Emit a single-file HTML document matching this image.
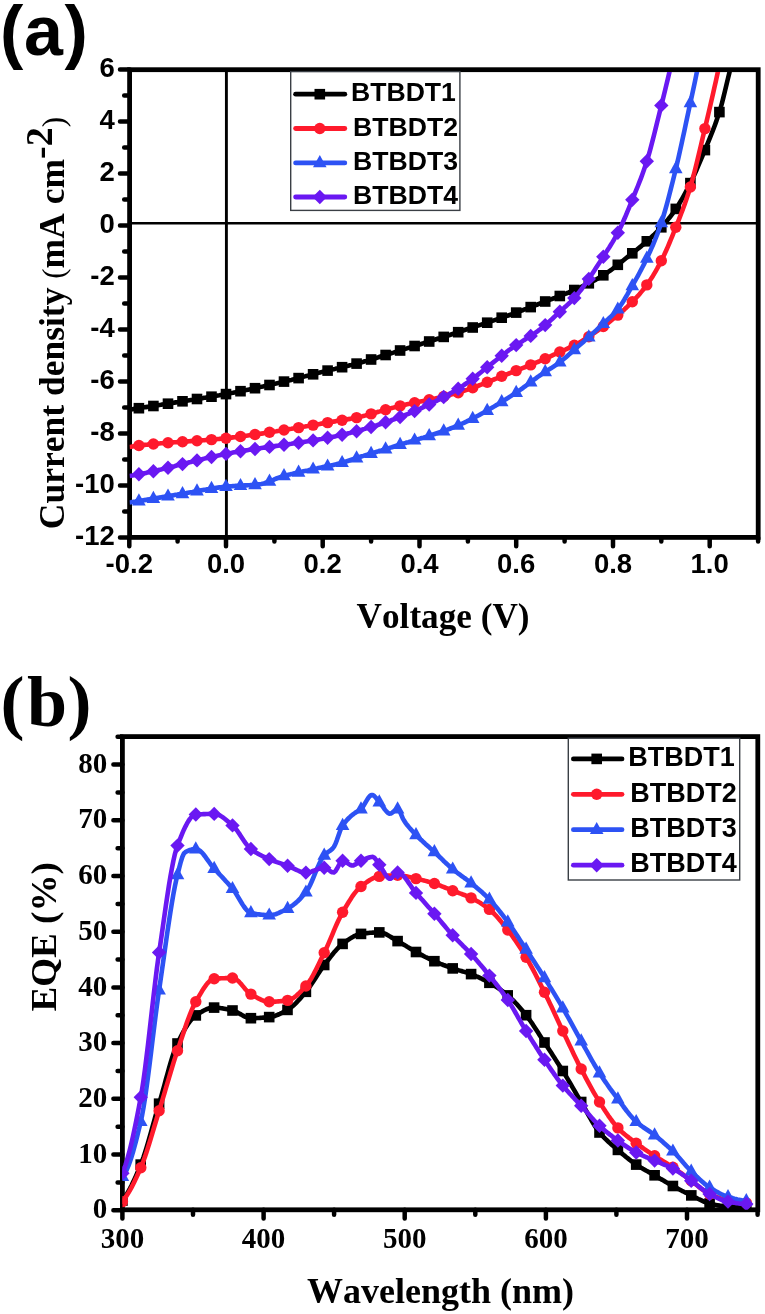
<!DOCTYPE html>
<html lang="en"><head><meta charset="utf-8"><title>J-V and EQE curves</title>
<style>html,body{margin:0;padding:0;background:#fff}svg{display:block}.sans{font-family:"Liberation Sans",Arial,Helvetica,sans-serif;font-weight:bold}.serif{font-family:"Liberation Serif","Times New Roman",Times,serif;font-weight:bold;font-kerning:none}</style></head><body>
<svg width="765" height="1314" viewBox="0 0 765 1314">
<rect width="765" height="1314" fill="#fff"/>
<filter id="soft" x="0" y="0" width="100%" height="100%" filterUnits="userSpaceOnUse" color-interpolation-filters="sRGB"><feGaussianBlur stdDeviation="0.55"/></filter>
<g filter="url(#soft)">
<rect width="765" height="1314" fill="#fff"/>
<defs><clipPath id="ca"><rect x="129.6" y="72.1" width="628.6" height="465.3"/></clipPath><clipPath id="cb"><rect x="122.4" y="739" width="635.4" height="470.8"/></clipPath></defs>
<g id="panel-a">
<line x1="226.4" y1="69.7" x2="226.4" y2="537.4" stroke="#000" stroke-width="2.9"/>
<line x1="129.6" y1="223.2" x2="758.2" y2="223.2" stroke="#000" stroke-width="2.4"/>
<rect x="129.6" y="69.7" width="628.6" height="467.7" fill="none" stroke="#000" stroke-width="4.8"/>
<path d="M129.6 69.5h-9.6M129.6 95.5h-5.4M129.6 121.5h-9.6M129.6 147.5h-5.4M129.6 173.5h-9.6M129.6 199.5h-5.4M129.6 225.5h-9.6M129.6 251.5h-5.4M129.6 277.5h-9.6M129.6 303.5h-5.4M129.6 329.5h-9.6M129.6 355.5h-5.4M129.6 381.5h-9.6M129.6 407.5h-5.4M129.6 433.5h-9.6M129.6 459.5h-5.4M129.6 485.5h-9.6M129.6 511.5h-5.4M129.6 537.5h-9.6M129.3 537.4v8.8M177.6 537.4v4M226 537.4v8.8M274.4 537.4v4M322.7 537.4v8.8M371.1 537.4v4M419.5 537.4v8.8M467.9 537.4v4M516.2 537.4v8.8M564.6 537.4v4M613 537.4v8.8M661.3 537.4v4M709.7 537.4v8.8M758.1 537.4v4" stroke="#000" stroke-width="4.5" fill="none" stroke-linecap="round"/>
<g clip-path="url(#ca)">
<path d="M129.4 409.6L130.9 409.4L132.4 409.2L133.9 408.9L135.4 408.7L136.9 408.5L138.4 408.3L139.9 408L141.4 407.8L142.9 407.6L144.4 407.3L145.9 407.1L147.4 406.9L148.9 406.7L150.4 406.4L151.9 406.2L153.4 406L154.9 405.7L156.4 405.5L157.9 405.3L159.4 405L160.9 404.8L162.4 404.5L163.9 404.3L165.4 404.1L166.9 403.8L168.4 403.6L169.9 403.4L171.4 403.1L172.9 402.9L174.4 402.6L175.9 402.4L177.4 402.2L178.9 401.9L180.4 401.7L181.9 401.4L183.4 401.2L184.9 401L186.4 400.7L187.9 400.5L189.4 400.2L190.9 400L192.4 399.8L193.9 399.5L195.4 399.3L196.9 399L198.4 398.8L199.9 398.6L201.4 398.3L202.9 398.1L204.4 397.8L205.9 397.6L207.4 397.3L208.9 397.1L210.4 396.8L211.9 396.6L213.4 396.3L214.9 396.1L216.4 395.8L217.9 395.5L219.4 395.3L220.9 395L222.4 394.7L223.9 394.5L225.4 394.2L226.9 393.9L228.4 393.6L229.9 393.3L231.4 393L232.9 392.8L234.4 392.5L235.9 392.2L237.4 391.9L238.9 391.6L240.4 391.3L241.9 391L243.4 390.7L244.9 390.3L246.4 390L247.9 389.7L249.4 389.4L250.9 389.1L252.4 388.8L253.9 388.4L255.4 388.1L256.9 387.8L258.4 387.5L259.9 387.1L261.4 386.8L262.9 386.5L264.4 386.1L265.9 385.8L267.4 385.5L268.9 385.1L270.4 384.8L271.9 384.4L273.4 384.1L274.9 383.8L276.4 383.4L277.9 383.1L279.4 382.7L280.9 382.4L282.4 382L283.9 381.7L285.4 381.3L286.9 381L288.4 380.6L289.9 380.2L291.4 379.9L292.9 379.5L294.4 379.1L295.9 378.7L297.4 378.4L298.9 378L300.4 377.6L301.9 377.2L303.4 376.8L304.9 376.4L306.4 376L307.9 375.6L309.4 375.2L310.9 374.8L312.4 374.4L313.9 374.1L315.4 373.7L316.9 373.3L318.4 372.9L319.9 372.5L321.4 372.1L322.9 371.7L324.4 371.4L325.9 371L327.4 370.6L328.9 370.3L330.4 369.9L331.9 369.6L333.4 369.2L334.9 368.9L336.4 368.5L337.9 368.2L339.4 367.8L340.9 367.5L342.4 367.1L343.9 366.8L345.4 366.4L346.9 366.1L348.4 365.7L349.9 365.3L351.4 365L352.9 364.6L354.4 364.2L355.9 363.8L357.4 363.4L358.9 363L360.4 362.6L361.9 362.2L363.4 361.8L364.9 361.3L366.4 360.9L367.9 360.4L369.4 360L370.9 359.5L372.4 359.1L373.9 358.6L375.4 358.2L376.9 357.7L378.4 357.3L379.9 356.8L381.4 356.3L382.9 355.9L384.4 355.4L385.9 354.9L387.4 354.4L388.9 354L390.4 353.5L391.9 353L393.4 352.6L394.9 352.1L396.4 351.6L397.9 351.2L399.4 350.7L400.9 350.3L402.4 349.8L403.9 349.3L405.4 348.9L406.9 348.4L408.4 347.9L409.9 347.5L411.4 347L412.9 346.5L414.4 346.1L415.9 345.6L417.4 345.1L418.9 344.7L420.4 344.2L421.9 343.7L423.4 343.3L424.9 342.8L426.4 342.3L427.9 341.9L429.4 341.4L430.9 340.9L432.4 340.4L433.9 340L435.4 339.5L436.9 339L438.4 338.5L439.9 338.1L441.4 337.6L442.9 337.1L444.4 336.6L445.9 336.1L447.4 335.7L448.9 335.2L450.4 334.7L451.9 334.2L453.4 333.7L454.9 333.2L456.4 332.7L457.9 332.3L459.4 331.8L460.9 331.3L462.4 330.8L463.9 330.3L465.4 329.8L466.9 329.3L468.4 328.8L469.9 328.4L471.4 327.9L472.9 327.4L474.4 326.9L475.9 326.4L477.4 325.9L478.9 325.4L480.4 324.9L481.9 324.4L483.4 323.9L484.9 323.4L486.4 322.9L487.9 322.4L489.4 321.9L490.9 321.4L492.4 320.9L493.9 320.4L495.4 319.9L496.9 319.4L498.4 318.9L499.9 318.4L501.4 317.8L502.9 317.3L504.4 316.8L505.9 316.3L507.4 315.7L508.9 315.2L510.4 314.7L511.9 314.2L513.4 313.6L514.9 313.1L516.4 312.5L517.9 312L519.4 311.4L520.9 310.8L522.4 310.3L523.9 309.7L525.4 309.1L526.9 308.6L528.4 308L529.9 307.4L531.4 306.8L532.9 306.2L534.4 305.7L535.9 305.1L537.4 304.5L538.9 303.9L540.4 303.3L541.9 302.8L543.4 302.2L544.9 301.6L546.4 301.1L547.9 300.5L549.4 299.9L550.9 299.4L552.4 298.8L553.9 298.3L555.4 297.7L556.9 297.1L558.4 296.6L559.9 296L561.4 295.4L562.9 294.8L564.4 294.2L565.9 293.6L567.4 293L568.9 292.4L570.4 291.7L571.9 291.1L573.4 290.4L574.9 289.8L576.4 289.1L577.9 288.4L579.4 287.7L580.9 287.1L582.4 286.4L583.9 285.7L585.4 284.9L586.9 284.2L588.4 283.5L589.9 282.7L591.4 282L592.9 281.2L594.4 280.4L595.9 279.6L597.4 278.7L598.9 277.9L600.4 277L601.9 276.1L603.4 275.2L604.9 274.3L606.4 273.3L607.9 272.2L609.4 271.2L610.9 270.1L612.4 269L613.9 267.8L615.4 266.7L616.9 265.5L618.4 264.3L619.9 263.1L621.4 261.9L622.9 260.7L624.4 259.5L625.9 258.3L627.4 257.1L628.9 255.9L630.4 254.8L631.9 253.6L633.4 252.4L634.9 251.2L636.4 250L637.9 248.8L639.4 247.6L640.9 246.4L642.4 245.1L643.9 243.9L645.4 242.6L646.9 241.3L648.4 239.9L649.9 238.6L651.4 237.2L652.9 235.8L654.4 234.4L655.9 232.9L657.4 231.4L658.9 229.9L660.4 228.3L661.9 226.6L663.4 225L664.9 223.2L666.4 221.5L667.9 219.6L669.4 217.8L670.9 215.8L672.4 213.8L673.9 211.7L675.4 209.6L676.9 207.3L678.4 205L679.9 202.5L681.4 200L682.9 197.3L684.4 194.6L685.9 191.8L687.4 188.9L688.9 186L690.4 183L691.9 179.9L693.4 176.8L694.9 173.5L696.4 170.2L697.9 166.7L699.4 163.2L700.9 159.7L702.4 156.1L703.9 152.4L705.4 148.8L706.9 145.2L708.4 141.6L709.9 137.9L711.4 134.2L712.9 130.4L714.4 126.5L715.9 122.4L717.4 118.1L718.9 113.6L720.4 108.7L721.9 103.3L723.4 97.4L724.9 91.3L726.4 85L727.9 78.8L729.4 72.6L730.9 66.6L732.4 60.5L733.9 54.5" fill="none" stroke="#000000" stroke-width="4.6" stroke-linejoin="round" stroke-linecap="butt"/>
<rect x="133.6" y="402.9" width="10.6" height="10.6" fill="#000000"/>
<rect x="148.1" y="400.7" width="10.6" height="10.6" fill="#000000"/>
<rect x="162.7" y="398.4" width="10.6" height="10.6" fill="#000000"/>
<rect x="177.2" y="396" width="10.6" height="10.6" fill="#000000"/>
<rect x="191.7" y="393.7" width="10.6" height="10.6" fill="#000000"/>
<rect x="206.2" y="391.4" width="10.6" height="10.6" fill="#000000"/>
<rect x="220.7" y="388.8" width="10.6" height="10.6" fill="#000000"/>
<rect x="235.2" y="385.9" width="10.6" height="10.6" fill="#000000"/>
<rect x="249.7" y="382.9" width="10.6" height="10.6" fill="#000000"/>
<rect x="264.2" y="379.7" width="10.6" height="10.6" fill="#000000"/>
<rect x="278.7" y="376.3" width="10.6" height="10.6" fill="#000000"/>
<rect x="293.3" y="372.8" width="10.6" height="10.6" fill="#000000"/>
<rect x="307.8" y="369" width="10.6" height="10.6" fill="#000000"/>
<rect x="322.3" y="365.3" width="10.6" height="10.6" fill="#000000"/>
<rect x="336.8" y="361.9" width="10.6" height="10.6" fill="#000000"/>
<rect x="351.3" y="358.3" width="10.6" height="10.6" fill="#000000"/>
<rect x="365.8" y="354.2" width="10.6" height="10.6" fill="#000000"/>
<rect x="380.3" y="349.7" width="10.6" height="10.6" fill="#000000"/>
<rect x="394.8" y="345.2" width="10.6" height="10.6" fill="#000000"/>
<rect x="409.3" y="340.7" width="10.6" height="10.6" fill="#000000"/>
<rect x="423.9" y="336.2" width="10.6" height="10.6" fill="#000000"/>
<rect x="438.4" y="331.6" width="10.6" height="10.6" fill="#000000"/>
<rect x="452.9" y="326.9" width="10.6" height="10.6" fill="#000000"/>
<rect x="467.4" y="322.2" width="10.6" height="10.6" fill="#000000"/>
<rect x="481.9" y="317.4" width="10.6" height="10.6" fill="#000000"/>
<rect x="496.4" y="312.4" width="10.6" height="10.6" fill="#000000"/>
<rect x="510.9" y="307.3" width="10.6" height="10.6" fill="#000000"/>
<rect x="525.4" y="301.8" width="10.6" height="10.6" fill="#000000"/>
<rect x="539.9" y="296.2" width="10.6" height="10.6" fill="#000000"/>
<rect x="554.5" y="290.7" width="10.6" height="10.6" fill="#000000"/>
<rect x="569" y="284.7" width="10.6" height="10.6" fill="#000000"/>
<rect x="583.5" y="278" width="10.6" height="10.6" fill="#000000"/>
<rect x="598" y="270" width="10.6" height="10.6" fill="#000000"/>
<rect x="612.5" y="259.5" width="10.6" height="10.6" fill="#000000"/>
<rect x="627" y="248" width="10.6" height="10.6" fill="#000000"/>
<rect x="641.5" y="236" width="10.6" height="10.6" fill="#000000"/>
<rect x="656" y="222" width="10.6" height="10.6" fill="#000000"/>
<rect x="670.5" y="203.6" width="10.6" height="10.6" fill="#000000"/>
<rect x="685.1" y="177.8" width="10.6" height="10.6" fill="#000000"/>
<rect x="699.6" y="144.8" width="10.6" height="10.6" fill="#000000"/>
<rect x="714.1" y="106.8" width="10.6" height="10.6" fill="#000000"/>
<path d="M129.4 447L130.9 446.8L132.4 446.5L133.9 446.2L135.4 446L136.9 445.8L138.4 445.6L139.9 445.4L141.4 445.2L142.9 445.1L144.4 444.9L145.9 444.7L147.4 444.6L148.9 444.4L150.4 444.3L151.9 444.1L153.4 444L154.9 443.9L156.4 443.7L157.9 443.6L159.4 443.5L160.9 443.3L162.4 443.2L163.9 443.1L165.4 443L166.9 442.9L168.4 442.7L169.9 442.6L171.4 442.5L172.9 442.4L174.4 442.3L175.9 442.2L177.4 442.1L178.9 442L180.4 441.9L181.9 441.8L183.4 441.7L184.9 441.6L186.4 441.5L187.9 441.4L189.4 441.3L190.9 441.1L192.4 441L193.9 440.9L195.4 440.8L196.9 440.7L198.4 440.6L199.9 440.5L201.4 440.4L202.9 440.3L204.4 440.2L205.9 440L207.4 439.9L208.9 439.8L210.4 439.7L211.9 439.6L213.4 439.4L214.9 439.3L216.4 439.2L217.9 439L219.4 438.9L220.9 438.7L222.4 438.6L223.9 438.4L225.4 438.3L226.9 438.1L228.4 437.9L229.9 437.8L231.4 437.6L232.9 437.4L234.4 437.2L235.9 437.1L237.4 436.9L238.9 436.7L240.4 436.5L241.9 436.3L243.4 436.1L244.9 435.9L246.4 435.7L247.9 435.5L249.4 435.3L250.9 435.1L252.4 434.9L253.9 434.7L255.4 434.5L256.9 434.3L258.4 434L259.9 433.8L261.4 433.6L262.9 433.4L264.4 433.1L265.9 432.9L267.4 432.7L268.9 432.4L270.4 432.2L271.9 432L273.4 431.7L274.9 431.5L276.4 431.3L277.9 431L279.4 430.8L280.9 430.5L282.4 430.3L283.9 430L285.4 429.8L286.9 429.5L288.4 429.3L289.9 429L291.4 428.8L292.9 428.5L294.4 428.3L295.9 428L297.4 427.8L298.9 427.5L300.4 427.3L301.9 427L303.4 426.7L304.9 426.5L306.4 426.2L307.9 426L309.4 425.7L310.9 425.5L312.4 425.2L313.9 424.9L315.4 424.7L316.9 424.4L318.4 424.2L319.9 423.9L321.4 423.6L322.9 423.4L324.4 423.1L325.9 422.9L327.4 422.6L328.9 422.4L330.4 422.1L331.9 421.9L333.4 421.6L334.9 421.4L336.4 421.1L337.9 420.8L339.4 420.6L340.9 420.4L342.4 420.1L343.9 419.9L345.4 419.6L346.9 419.4L348.4 419.1L349.9 418.9L351.4 418.6L352.9 418.3L354.4 418L355.9 417.7L357.4 417.4L358.9 417.1L360.4 416.7L361.9 416.4L363.4 416L364.9 415.6L366.4 415.2L367.9 414.8L369.4 414.4L370.9 414L372.4 413.6L373.9 413.1L375.4 412.7L376.9 412.3L378.4 411.8L379.9 411.4L381.4 410.9L382.9 410.5L384.4 410.1L385.9 409.6L387.4 409.2L388.9 408.8L390.4 408.4L391.9 408L393.4 407.6L394.9 407.2L396.4 406.8L397.9 406.4L399.4 406L400.9 405.7L402.4 405.3L403.9 405L405.4 404.7L406.9 404.3L408.4 404L409.9 403.7L411.4 403.4L412.9 403L414.4 402.7L415.9 402.4L417.4 402.1L418.9 401.8L420.4 401.5L421.9 401.2L423.4 400.9L424.9 400.6L426.4 400.3L427.9 400L429.4 399.6L430.9 399.3L432.4 399L433.9 398.7L435.4 398.4L436.9 398.1L438.4 397.7L439.9 397.4L441.4 397L442.9 396.7L444.4 396.3L445.9 396L447.4 395.6L448.9 395.2L450.4 394.8L451.9 394.4L453.4 394L454.9 393.6L456.4 393.2L457.9 392.8L459.4 392.3L460.9 391.8L462.4 391.4L463.9 390.9L465.4 390.4L466.9 389.9L468.4 389.4L469.9 388.8L471.4 388.3L472.9 387.7L474.4 387.2L475.9 386.6L477.4 386.1L478.9 385.5L480.4 384.9L481.9 384.3L483.4 383.7L484.9 383.1L486.4 382.5L487.9 381.9L489.4 381.3L490.9 380.7L492.4 380.1L493.9 379.5L495.4 378.9L496.9 378.3L498.4 377.7L499.9 377.1L501.4 376.5L502.9 375.9L504.4 375.3L505.9 374.7L507.4 374.1L508.9 373.5L510.4 372.9L511.9 372.3L513.4 371.7L514.9 371.1L516.4 370.5L517.9 369.9L519.4 369.4L520.9 368.8L522.4 368.2L523.9 367.6L525.4 367L526.9 366.4L528.4 365.8L529.9 365.2L531.4 364.6L532.9 364L534.4 363.4L535.9 362.7L537.4 362.1L538.9 361.5L540.4 360.8L541.9 360.2L543.4 359.5L544.9 358.8L546.4 358.2L547.9 357.5L549.4 356.8L550.9 356.1L552.4 355.4L553.9 354.7L555.4 354L556.9 353.3L558.4 352.6L559.9 351.9L561.4 351.3L562.9 350.6L564.4 349.9L565.9 349.3L567.4 348.6L568.9 347.9L570.4 347.2L571.9 346.5L573.4 345.8L574.9 345L576.4 344.2L577.9 343.3L579.4 342.5L580.9 341.6L582.4 340.7L583.9 339.8L585.4 338.8L586.9 337.9L588.4 336.9L589.9 335.9L591.4 334.9L592.9 333.9L594.4 332.9L595.9 331.8L597.4 330.8L598.9 329.7L600.4 328.6L601.9 327.5L603.4 326.4L604.9 325.3L606.4 324.2L607.9 323.1L609.4 321.9L610.9 320.7L612.4 319.5L613.9 318.3L615.4 317.1L616.9 315.9L618.4 314.6L619.9 313.3L621.4 312L622.9 310.7L624.4 309.4L625.9 308L627.4 306.6L628.9 305.1L630.4 303.7L631.9 302.2L633.4 300.7L634.9 299.1L636.4 297.5L637.9 295.9L639.4 294.2L640.9 292.4L642.4 290.6L643.9 288.7L645.4 286.8L646.9 284.8L648.4 282.7L649.9 280.5L651.4 278.2L652.9 275.9L654.4 273.4L655.9 270.8L657.4 268.2L658.9 265.4L660.4 262.6L661.9 259.6L663.4 256.6L664.9 253.3L666.4 250L667.9 246.6L669.4 243L670.9 239.4L672.4 235.8L673.9 232L675.4 228.3L676.9 224.5L678.4 220.8L679.9 216.9L681.4 213L682.9 209.1L684.4 204.9L685.9 200.7L687.4 196.3L688.9 191.7L690.4 186.8L691.9 181.7L693.4 176.2L694.9 170.4L696.4 164.3L697.9 158.1L699.4 151.8L700.9 145.4L702.4 139L703.9 132.7L705.4 126.4L706.9 120.1L708.4 113.7L709.9 107.3L711.4 100.8L712.9 94.3L714.4 87.6L715.9 80.9L717.4 74.1L718.9 67.2L720.4 60.1L721.9 52.9" fill="none" stroke="#ff1a2c" stroke-width="4.6" stroke-linejoin="round" stroke-linecap="butt"/>
<circle cx="138.9" cy="445.5" r="5.7" fill="#ff1a2c"/>
<circle cx="153.4" cy="444" r="5.7" fill="#ff1a2c"/>
<circle cx="168" cy="442.8" r="5.7" fill="#ff1a2c"/>
<circle cx="182.5" cy="441.7" r="5.7" fill="#ff1a2c"/>
<circle cx="197" cy="440.7" r="5.7" fill="#ff1a2c"/>
<circle cx="211.5" cy="439.6" r="5.7" fill="#ff1a2c"/>
<circle cx="226" cy="438.2" r="5.7" fill="#ff1a2c"/>
<circle cx="240.5" cy="436.5" r="5.7" fill="#ff1a2c"/>
<circle cx="255" cy="434.5" r="5.7" fill="#ff1a2c"/>
<circle cx="269.5" cy="432.3" r="5.7" fill="#ff1a2c"/>
<circle cx="284" cy="430" r="5.7" fill="#ff1a2c"/>
<circle cx="298.6" cy="427.6" r="5.7" fill="#ff1a2c"/>
<circle cx="313.1" cy="425.1" r="5.7" fill="#ff1a2c"/>
<circle cx="327.6" cy="422.6" r="5.7" fill="#ff1a2c"/>
<circle cx="342.1" cy="420.2" r="5.7" fill="#ff1a2c"/>
<circle cx="356.6" cy="417.6" r="5.7" fill="#ff1a2c"/>
<circle cx="371.1" cy="413.9" r="5.7" fill="#ff1a2c"/>
<circle cx="385.6" cy="409.7" r="5.7" fill="#ff1a2c"/>
<circle cx="400.1" cy="405.9" r="5.7" fill="#ff1a2c"/>
<circle cx="414.6" cy="402.7" r="5.7" fill="#ff1a2c"/>
<circle cx="429.2" cy="399.7" r="5.7" fill="#ff1a2c"/>
<circle cx="443.7" cy="396.5" r="5.7" fill="#ff1a2c"/>
<circle cx="458.2" cy="392.7" r="5.7" fill="#ff1a2c"/>
<circle cx="472.7" cy="387.8" r="5.7" fill="#ff1a2c"/>
<circle cx="487.2" cy="382.2" r="5.7" fill="#ff1a2c"/>
<circle cx="501.7" cy="376.3" r="5.7" fill="#ff1a2c"/>
<circle cx="516.2" cy="370.6" r="5.7" fill="#ff1a2c"/>
<circle cx="530.7" cy="364.9" r="5.7" fill="#ff1a2c"/>
<circle cx="545.2" cy="358.7" r="5.7" fill="#ff1a2c"/>
<circle cx="559.8" cy="352" r="5.7" fill="#ff1a2c"/>
<circle cx="574.3" cy="345.3" r="5.7" fill="#ff1a2c"/>
<circle cx="588.8" cy="336.7" r="5.7" fill="#ff1a2c"/>
<circle cx="603.3" cy="326.5" r="5.7" fill="#ff1a2c"/>
<circle cx="617.8" cy="315.1" r="5.7" fill="#ff1a2c"/>
<circle cx="632.3" cy="301.8" r="5.7" fill="#ff1a2c"/>
<circle cx="646.8" cy="284.9" r="5.7" fill="#ff1a2c"/>
<circle cx="661.3" cy="260.8" r="5.7" fill="#ff1a2c"/>
<circle cx="675.8" cy="227.2" r="5.7" fill="#ff1a2c"/>
<circle cx="690.4" cy="187" r="5.7" fill="#ff1a2c"/>
<circle cx="704.9" cy="128.6" r="5.7" fill="#ff1a2c"/>
<circle cx="719.4" cy="65" r="5.7" fill="#ff1a2c"/>
<path d="M129.4 502.5L130.9 502.3L132.4 502L133.9 501.8L135.4 501.6L136.9 501.3L138.4 501.1L139.9 500.9L141.4 500.6L142.9 500.4L144.4 500.1L145.9 499.9L147.4 499.6L148.9 499.4L150.4 499.1L151.9 498.9L153.4 498.6L154.9 498.4L156.4 498.1L157.9 497.9L159.4 497.6L160.9 497.4L162.4 497.1L163.9 496.9L165.4 496.6L166.9 496.4L168.4 496.1L169.9 495.9L171.4 495.6L172.9 495.4L174.4 495.1L175.9 494.8L177.4 494.6L178.9 494.3L180.4 494.1L181.9 493.8L183.4 493.6L184.9 493.3L186.4 493.1L187.9 492.8L189.4 492.5L190.9 492.2L192.4 492L193.9 491.7L195.4 491.4L196.9 491.1L198.4 490.8L199.9 490.6L201.4 490.3L202.9 490L204.4 489.7L205.9 489.5L207.4 489.2L208.9 489L210.4 488.7L211.9 488.5L213.4 488.2L214.9 488L216.4 487.8L217.9 487.6L219.4 487.4L220.9 487.2L222.4 487L223.9 486.8L225.4 486.7L226.9 486.5L228.4 486.4L229.9 486.3L231.4 486.2L232.9 486.1L234.4 486L235.9 485.9L237.4 485.8L238.9 485.7L240.4 485.7L241.9 485.6L243.4 485.5L244.9 485.4L246.4 485.4L247.9 485.3L249.4 485.2L250.9 485.1L252.4 485L253.9 484.9L255.4 484.7L256.9 484.6L258.4 484.4L259.9 484.2L261.4 484L262.9 483.6L264.4 483.2L265.9 482.7L267.4 482.2L268.9 481.6L270.4 481L271.9 480.4L273.4 479.8L274.9 479.1L276.4 478.5L277.9 477.9L279.4 477.4L280.9 476.9L282.4 476.4L283.9 476L285.4 475.6L286.9 475.2L288.4 474.8L289.9 474.4L291.4 474.1L292.9 473.7L294.4 473.3L295.9 473L297.4 472.7L298.9 472.3L300.4 472L301.9 471.7L303.4 471.3L304.9 471L306.4 470.7L307.9 470.4L309.4 470L310.9 469.7L312.4 469.4L313.9 469L315.4 468.7L316.9 468.4L318.4 468L319.9 467.7L321.4 467.4L322.9 467.1L324.4 466.8L325.9 466.5L327.4 466.2L328.9 465.9L330.4 465.6L331.9 465.2L333.4 464.9L334.9 464.6L336.4 464.2L337.9 463.8L339.4 463.5L340.9 463.1L342.4 462.6L343.9 462.2L345.4 461.7L346.9 461.2L348.4 460.7L349.9 460.2L351.4 459.7L352.9 459.2L354.4 458.7L355.9 458.2L357.4 457.7L358.9 457.3L360.4 456.8L361.9 456.3L363.4 455.9L364.9 455.4L366.4 454.9L367.9 454.5L369.4 454L370.9 453.6L372.4 453.1L373.9 452.7L375.4 452.2L376.9 451.7L378.4 451.3L379.9 450.8L381.4 450.4L382.9 449.9L384.4 449.5L385.9 449L387.4 448.5L388.9 448.1L390.4 447.6L391.9 447.2L393.4 446.7L394.9 446.2L396.4 445.7L397.9 445.3L399.4 444.8L400.9 444.3L402.4 443.9L403.9 443.4L405.4 443L406.9 442.5L408.4 442.1L409.9 441.6L411.4 441.2L412.9 440.7L414.4 440.3L415.9 439.8L417.4 439.4L418.9 438.9L420.4 438.5L421.9 438L423.4 437.6L424.9 437.1L426.4 436.7L427.9 436.2L429.4 435.7L430.9 435.3L432.4 434.8L433.9 434.3L435.4 433.8L436.9 433.3L438.4 432.8L439.9 432.3L441.4 431.8L442.9 431.3L444.4 430.8L445.9 430.2L447.4 429.7L448.9 429.1L450.4 428.5L451.9 427.9L453.4 427.3L454.9 426.7L456.4 426.1L457.9 425.5L459.4 424.8L460.9 424.2L462.4 423.5L463.9 422.8L465.4 422.1L466.9 421.4L468.4 420.6L469.9 419.9L471.4 419.1L472.9 418.4L474.4 417.6L475.9 416.8L477.4 416L478.9 415.2L480.4 414.4L481.9 413.5L483.4 412.7L484.9 411.8L486.4 411L487.9 410.1L489.4 409.2L490.9 408.4L492.4 407.5L493.9 406.6L495.4 405.7L496.9 404.8L498.4 403.8L499.9 402.9L501.4 402L502.9 401.1L504.4 400.1L505.9 399.2L507.4 398.3L508.9 397.3L510.4 396.4L511.9 395.4L513.4 394.5L514.9 393.5L516.4 392.5L517.9 391.5L519.4 390.4L520.9 389.4L522.4 388.3L523.9 387.2L525.4 386.1L526.9 385L528.4 383.8L529.9 382.7L531.4 381.6L532.9 380.5L534.4 379.4L535.9 378.3L537.4 377.2L538.9 376.2L540.4 375.1L541.9 374.1L543.4 373.1L544.9 372.1L546.4 371.2L547.9 370.2L549.4 369.2L550.9 368.3L552.4 367.3L553.9 366.3L555.4 365.3L556.9 364.3L558.4 363.2L559.9 362.1L561.4 360.9L562.9 359.7L564.4 358.5L565.9 357.2L567.4 355.9L568.9 354.6L570.4 353.2L571.9 351.9L573.4 350.6L574.9 349.3L576.4 347.9L577.9 346.6L579.4 345.3L580.9 344L582.4 342.7L583.9 341.4L585.4 340L586.9 338.7L588.4 337.4L589.9 336L591.4 334.7L592.9 333.3L594.4 332L595.9 330.6L597.4 329.2L598.9 327.8L600.4 326.4L601.9 325L603.4 323.6L604.9 322.2L606.4 320.8L607.9 319.4L609.4 318L610.9 316.6L612.4 315.2L613.9 313.6L615.4 312L616.9 310.3L618.4 308.4L619.9 306.4L621.4 304.2L622.9 301.9L624.4 299.5L625.9 296.9L627.4 294.4L628.9 291.7L630.4 289.1L631.9 286.5L633.4 283.9L634.9 281.2L636.4 278.5L637.9 275.8L639.4 273L640.9 270.2L642.4 267.3L643.9 264.4L645.4 261.3L646.9 258.2L648.4 255L649.9 251.8L651.4 248.4L652.9 245L654.4 241.4L655.9 237.7L657.4 233.9L658.9 229.8L660.4 225.6L661.9 221.1L663.4 216.3L664.9 211.2L666.4 205.8L667.9 200.3L669.4 194.5L670.9 188.7L672.4 182.7L673.9 176.7L675.4 170.6L676.9 164.4L678.4 157.9L679.9 151.3L681.4 144.5L682.9 137.6L684.4 130.7L685.9 123.6L687.4 116.6L688.9 109.6L690.4 102.6L691.9 95.7L693.4 88.7L694.9 81.7L696.4 74.4L697.9 66.8L699.4 58.8L700.9 50.6" fill="none" stroke="#2d52f4" stroke-width="4.6" stroke-linejoin="round" stroke-linecap="butt"/>
<path d="M138.9 493.2L145.7 505.4L132.1 505.4Z" fill="#2d52f4"/>
<path d="M153.4 490.8L160.2 503L146.6 503Z" fill="#2d52f4"/>
<path d="M168 488.4L174.8 500.6L161.2 500.6Z" fill="#2d52f4"/>
<path d="M182.5 486L189.3 498.2L175.7 498.2Z" fill="#2d52f4"/>
<path d="M197 483.3L203.8 495.5L190.2 495.5Z" fill="#2d52f4"/>
<path d="M211.5 480.7L218.3 492.9L204.7 492.9Z" fill="#2d52f4"/>
<path d="M226 478.8L232.8 491L219.2 491Z" fill="#2d52f4"/>
<path d="M240.5 477.9L247.3 490.1L233.7 490.1Z" fill="#2d52f4"/>
<path d="M255 477L261.8 489.2L248.2 489.2Z" fill="#2d52f4"/>
<path d="M269.5 473.6L276.3 485.8L262.7 485.8Z" fill="#2d52f4"/>
<path d="M284 468.1L290.8 480.3L277.2 480.3Z" fill="#2d52f4"/>
<path d="M298.6 464.6L305.4 476.8L291.8 476.8Z" fill="#2d52f4"/>
<path d="M313.1 461.4L319.9 473.6L306.3 473.6Z" fill="#2d52f4"/>
<path d="M327.6 458.4L334.4 470.6L320.8 470.6Z" fill="#2d52f4"/>
<path d="M342.1 454.9L348.9 467.1L335.3 467.1Z" fill="#2d52f4"/>
<path d="M356.6 450.2L363.4 462.4L349.8 462.4Z" fill="#2d52f4"/>
<path d="M371.1 445.7L377.9 457.9L364.3 457.9Z" fill="#2d52f4"/>
<path d="M385.6 441.3L392.4 453.5L378.8 453.5Z" fill="#2d52f4"/>
<path d="M400.1 436.8L406.9 449L393.3 449Z" fill="#2d52f4"/>
<path d="M414.6 432.4L421.4 444.6L407.8 444.6Z" fill="#2d52f4"/>
<path d="M429.2 428L436 440.2L422.4 440.2Z" fill="#2d52f4"/>
<path d="M443.7 423.2L450.5 435.4L436.9 435.4Z" fill="#2d52f4"/>
<path d="M458.2 417.6L465 429.8L451.4 429.8Z" fill="#2d52f4"/>
<path d="M472.7 410.7L479.5 422.9L465.9 422.9Z" fill="#2d52f4"/>
<path d="M487.2 402.7L494 414.9L480.4 414.9Z" fill="#2d52f4"/>
<path d="M501.7 394L508.5 406.2L494.9 406.2Z" fill="#2d52f4"/>
<path d="M516.2 384.8L523 397L509.4 397Z" fill="#2d52f4"/>
<path d="M530.7 374.3L537.5 386.5L523.9 386.5Z" fill="#2d52f4"/>
<path d="M545.2 364.1L552 376.3L538.4 376.3Z" fill="#2d52f4"/>
<path d="M559.8 354.4L566.6 366.6L553 366.6Z" fill="#2d52f4"/>
<path d="M574.3 342L581.1 354.2L567.5 354.2Z" fill="#2d52f4"/>
<path d="M588.8 329.2L595.6 341.4L582 341.4Z" fill="#2d52f4"/>
<path d="M603.3 315.9L610.1 328.1L596.5 328.1Z" fill="#2d52f4"/>
<path d="M617.8 301.4L624.6 313.6L611 313.6Z" fill="#2d52f4"/>
<path d="M632.3 278L639.1 290.2L625.5 290.2Z" fill="#2d52f4"/>
<path d="M646.8 250.6L653.6 262.8L640 262.8Z" fill="#2d52f4"/>
<path d="M661.3 215L668.1 227.2L654.5 227.2Z" fill="#2d52f4"/>
<path d="M675.8 161L682.6 173.2L669 173.2Z" fill="#2d52f4"/>
<path d="M690.4 95L697.2 107.2L683.6 107.2Z" fill="#2d52f4"/>
<path d="M129.4 476L130.9 475.7L132.4 475.5L133.9 475.2L135.4 475L136.9 474.7L138.4 474.4L139.9 474.1L141.4 473.8L142.9 473.5L144.4 473.2L145.9 472.9L147.4 472.6L148.9 472.2L150.4 471.9L151.9 471.6L153.4 471.2L154.9 470.9L156.4 470.6L157.9 470.2L159.4 469.8L160.9 469.5L162.4 469.1L163.9 468.8L165.4 468.4L166.9 468L168.4 467.7L169.9 467.3L171.4 466.9L172.9 466.5L174.4 466.2L175.9 465.8L177.4 465.4L178.9 465L180.4 464.6L181.9 464.2L183.4 463.9L184.9 463.5L186.4 463.1L187.9 462.7L189.4 462.3L190.9 462L192.4 461.6L193.9 461.2L195.4 460.8L196.9 460.5L198.4 460.1L199.9 459.7L201.4 459.4L202.9 459L204.4 458.6L205.9 458.3L207.4 457.9L208.9 457.6L210.4 457.2L211.9 456.9L213.4 456.5L214.9 456.2L216.4 455.9L217.9 455.6L219.4 455.2L220.9 454.9L222.4 454.6L223.9 454.3L225.4 454L226.9 453.7L228.4 453.4L229.9 453.2L231.4 452.9L232.9 452.6L234.4 452.3L235.9 452.1L237.4 451.8L238.9 451.6L240.4 451.3L241.9 451L243.4 450.8L244.9 450.6L246.4 450.3L247.9 450.1L249.4 449.8L250.9 449.6L252.4 449.4L253.9 449.1L255.4 448.9L256.9 448.7L258.4 448.5L259.9 448.2L261.4 448L262.9 447.8L264.4 447.6L265.9 447.4L267.4 447.2L268.9 446.9L270.4 446.7L271.9 446.5L273.4 446.3L274.9 446.1L276.4 445.9L277.9 445.7L279.4 445.5L280.9 445.2L282.4 445L283.9 444.8L285.4 444.6L286.9 444.4L288.4 444.2L289.9 444L291.4 443.8L292.9 443.5L294.4 443.3L295.9 443.1L297.4 442.9L298.9 442.6L300.4 442.4L301.9 442.2L303.4 442L304.9 441.7L306.4 441.5L307.9 441.3L309.4 441L310.9 440.8L312.4 440.5L313.9 440.3L315.4 440L316.9 439.8L318.4 439.5L319.9 439.2L321.4 439L322.9 438.7L324.4 438.4L325.9 438.2L327.4 437.9L328.9 437.6L330.4 437.3L331.9 437L333.4 436.7L334.9 436.4L336.4 436.1L337.9 435.8L339.4 435.4L340.9 435.1L342.4 434.8L343.9 434.4L345.4 434.1L346.9 433.7L348.4 433.3L349.9 433L351.4 432.6L352.9 432.2L354.4 431.8L355.9 431.4L357.4 431L358.9 430.6L360.4 430.2L361.9 429.7L363.4 429.3L364.9 428.9L366.4 428.4L367.9 428L369.4 427.5L370.9 427.1L372.4 426.6L373.9 426.1L375.4 425.6L376.9 425.2L378.4 424.7L379.9 424.2L381.4 423.7L382.9 423.2L384.4 422.7L385.9 422.1L387.4 421.6L388.9 421.1L390.4 420.6L391.9 420L393.4 419.5L394.9 419L396.4 418.4L397.9 417.9L399.4 417.3L400.9 416.7L402.4 416.2L403.9 415.6L405.4 415L406.9 414.4L408.4 413.8L409.9 413.1L411.4 412.5L412.9 411.9L414.4 411.2L415.9 410.6L417.4 409.9L418.9 409.3L420.4 408.6L421.9 407.9L423.4 407.2L424.9 406.5L426.4 405.8L427.9 405.1L429.4 404.4L430.9 403.6L432.4 402.9L433.9 402.1L435.4 401.4L436.9 400.6L438.4 399.8L439.9 399.1L441.4 398.3L442.9 397.5L444.4 396.7L445.9 395.8L447.4 395L448.9 394.2L450.4 393.3L451.9 392.5L453.4 391.6L454.9 390.8L456.4 389.9L457.9 389L459.4 388L460.9 387.1L462.4 386.1L463.9 385L465.4 384L466.9 383L468.4 381.9L469.9 380.8L471.4 379.7L472.9 378.5L474.4 377.4L475.9 376.2L477.4 375.1L478.9 373.9L480.4 372.7L481.9 371.5L483.4 370.3L484.9 369.1L486.4 367.9L487.9 366.7L489.4 365.5L490.9 364.3L492.4 363.1L493.9 361.9L495.4 360.7L496.9 359.5L498.4 358.3L499.9 357.1L501.4 355.9L502.9 354.8L504.4 353.6L505.9 352.5L507.4 351.3L508.9 350.2L510.4 349.2L511.9 348.1L513.4 347L514.9 346L516.4 345L517.9 344L519.4 343.1L520.9 342.1L522.4 341.2L523.9 340.2L525.4 339.3L526.9 338.4L528.4 337.4L529.9 336.4L531.4 335.5L532.9 334.5L534.4 333.5L535.9 332.4L537.4 331.3L538.9 330.2L540.4 329.1L541.9 327.9L543.4 326.7L544.9 325.4L546.4 324.1L547.9 322.8L549.4 321.4L550.9 320.1L552.4 318.7L553.9 317.3L555.4 315.9L556.9 314.5L558.4 313.1L559.9 311.7L561.4 310.3L562.9 309L564.4 307.6L565.9 306.3L567.4 304.9L568.9 303.5L570.4 302.1L571.9 300.6L573.4 299L574.9 297.4L576.4 295.6L577.9 293.8L579.4 291.9L580.9 290L582.4 288L583.9 285.9L585.4 283.8L586.9 281.6L588.4 279.5L589.9 277.2L591.4 275L592.9 272.7L594.4 270.4L595.9 268.1L597.4 265.8L598.9 263.5L600.4 261.2L601.9 258.8L603.4 256.5L604.9 254.3L606.4 251.9L607.9 249.6L609.4 247.3L610.9 244.8L612.4 242.4L613.9 239.8L615.4 237.2L616.9 234.5L618.4 231.6L619.9 228.6L621.4 225.5L622.9 222.2L624.4 218.8L625.9 215.3L627.4 211.7L628.9 208.1L630.4 204.4L631.9 200.7L633.4 197.1L634.9 193.4L636.4 189.7L637.9 186L639.4 182.2L640.9 178.3L642.4 174.2L643.9 170L645.4 165.6L646.9 161L648.4 156L649.9 150.8L651.4 145.2L652.9 139.4L654.4 133.5L655.9 127.4L657.4 121.3L658.9 115.2L660.4 109.1L661.9 103.1L663.4 97.1L664.9 91L666.4 84.8L667.9 78.6L669.4 72.2L670.9 65.8L672.4 59.3L673.9 52.7" fill="none" stroke="#6a18f2" stroke-width="4.6" stroke-linejoin="round" stroke-linecap="butt"/>
<path d="M138.9 467.1L146.1 474.3L138.9 481.5L131.7 474.3Z" fill="#6a18f2"/>
<path d="M153.4 464L160.6 471.2L153.4 478.4L146.2 471.2Z" fill="#6a18f2"/>
<path d="M168 460.6L175.2 467.8L168 475L160.8 467.8Z" fill="#6a18f2"/>
<path d="M182.5 456.9L189.7 464.1L182.5 471.3L175.3 464.1Z" fill="#6a18f2"/>
<path d="M197 453.2L204.2 460.4L197 467.6L189.8 460.4Z" fill="#6a18f2"/>
<path d="M211.5 449.8L218.7 457L211.5 464.2L204.3 457Z" fill="#6a18f2"/>
<path d="M226 446.7L233.2 453.9L226 461.1L218.8 453.9Z" fill="#6a18f2"/>
<path d="M240.5 444.1L247.7 451.3L240.5 458.5L233.3 451.3Z" fill="#6a18f2"/>
<path d="M255 441.8L262.2 449L255 456.2L247.8 449Z" fill="#6a18f2"/>
<path d="M269.5 439.7L276.7 446.9L269.5 454.1L262.3 446.9Z" fill="#6a18f2"/>
<path d="M284 437.6L291.2 444.8L284 452L276.8 444.8Z" fill="#6a18f2"/>
<path d="M298.6 435.5L305.8 442.7L298.6 449.9L291.4 442.7Z" fill="#6a18f2"/>
<path d="M313.1 433.2L320.3 440.4L313.1 447.6L305.9 440.4Z" fill="#6a18f2"/>
<path d="M327.6 430.6L334.8 437.8L327.6 445L320.4 437.8Z" fill="#6a18f2"/>
<path d="M342.1 427.6L349.3 434.8L342.1 442L334.9 434.8Z" fill="#6a18f2"/>
<path d="M356.6 424L363.8 431.2L356.6 438.4L349.4 431.2Z" fill="#6a18f2"/>
<path d="M371.1 419.8L378.3 427L371.1 434.2L363.9 427Z" fill="#6a18f2"/>
<path d="M385.6 415L392.8 422.2L385.6 429.4L378.4 422.2Z" fill="#6a18f2"/>
<path d="M400.1 409.8L407.3 417L400.1 424.2L392.9 417Z" fill="#6a18f2"/>
<path d="M414.6 403.9L421.8 411.1L414.6 418.3L407.4 411.1Z" fill="#6a18f2"/>
<path d="M429.2 397.3L436.4 404.5L429.2 411.7L422 404.5Z" fill="#6a18f2"/>
<path d="M443.7 389.8L450.9 397L443.7 404.2L436.5 397Z" fill="#6a18f2"/>
<path d="M458.2 381.6L465.4 388.8L458.2 396L451 388.8Z" fill="#6a18f2"/>
<path d="M472.7 371.5L479.9 378.7L472.7 385.9L465.5 378.7Z" fill="#6a18f2"/>
<path d="M487.2 360.1L494.4 367.3L487.2 374.5L480 367.3Z" fill="#6a18f2"/>
<path d="M501.7 348.5L508.9 355.7L501.7 362.9L494.5 355.7Z" fill="#6a18f2"/>
<path d="M516.2 337.9L523.4 345.1L516.2 352.3L509 345.1Z" fill="#6a18f2"/>
<path d="M530.7 328.7L537.9 335.9L530.7 343.1L523.5 335.9Z" fill="#6a18f2"/>
<path d="M545.2 317.9L552.4 325.1L545.2 332.3L538 325.1Z" fill="#6a18f2"/>
<path d="M559.8 304.6L567 311.8L559.8 319L552.6 311.8Z" fill="#6a18f2"/>
<path d="M574.3 290.9L581.5 298.1L574.3 305.3L567.1 298.1Z" fill="#6a18f2"/>
<path d="M588.8 271.7L596 278.9L588.8 286.1L581.6 278.9Z" fill="#6a18f2"/>
<path d="M603.3 249.5L610.5 256.7L603.3 263.9L596.1 256.7Z" fill="#6a18f2"/>
<path d="M617.8 225.6L625 232.8L617.8 240L610.6 232.8Z" fill="#6a18f2"/>
<path d="M632.3 192.5L639.5 199.7L632.3 206.9L625.1 199.7Z" fill="#6a18f2"/>
<path d="M646.8 154L654 161.2L646.8 168.4L639.6 161.2Z" fill="#6a18f2"/>
<path d="M661.3 98.2L668.5 105.4L661.3 112.6L654.1 105.4Z" fill="#6a18f2"/>
</g>
<g class="sans" font-size="27.5" fill="#000">
<text x="114.8" y="77.1" text-anchor="end">6</text>
<text x="114.8" y="129.1" text-anchor="end">4</text>
<text x="114.8" y="181.1" text-anchor="end">2</text>
<text x="114.8" y="233.1" text-anchor="end">0</text>
<text x="114.8" y="285.1" text-anchor="end">-2</text>
<text x="114.8" y="337.1" text-anchor="end">-4</text>
<text x="114.8" y="389.1" text-anchor="end">-6</text>
<text x="114.8" y="441.1" text-anchor="end">-8</text>
<text x="114.8" y="493.1" text-anchor="end">-10</text>
<text x="114.8" y="545.1" text-anchor="end">-12</text>
<text x="129.3" y="572.9" text-anchor="middle">-0.2</text>
<text x="226" y="572.9" text-anchor="middle">0.0</text>
<text x="322.7" y="572.9" text-anchor="middle">0.2</text>
<text x="419.5" y="572.9" text-anchor="middle">0.4</text>
<text x="516.2" y="572.9" text-anchor="middle">0.6</text>
<text x="613" y="572.9" text-anchor="middle">0.8</text>
<text x="709.7" y="572.9" text-anchor="middle">1.0</text>
</g>
<text class="serif" font-size="35.2" x="443.1" y="627.7" text-anchor="middle" fill="#000">Voltage (V)</text>
<text class="serif" font-size="35.5" transform="translate(64.4 529.2) rotate(-90)" fill="#000">Current density <tspan font-weight="normal" font-size="31">(</tspan>mA cm<tspan dy="-12" font-size="38">-2</tspan><tspan dy="12" font-weight="normal" font-size="31">)</tspan></text>
<text class="sans" font-size="70" x="0" y="54.6" fill="#000">(<tspan dx="0.6">a</tspan><tspan dx="1.6">)</tspan></text>
<rect x="290.7" y="71.6" width="169.2" height="138.8" fill="#fff" stroke="#3a3f45" stroke-width="1.4"/>
<line x1="295.6" y1="94.2" x2="344.8" y2="94.2" stroke="#000000" stroke-width="4.8" stroke-linecap="round"/>
<rect x="314.5" y="88.9" width="10.6" height="10.6" fill="#000000"/>
<text class="sans" font-size="26.6" x="351.0" y="101.1" fill="#000">BTBDT1</text>
<line x1="295.6" y1="128.5" x2="344.8" y2="128.5" stroke="#ff1a2c" stroke-width="4.8" stroke-linecap="round"/>
<circle cx="319.8" cy="128.5" r="5.7" fill="#ff1a2c"/>
<text class="sans" font-size="26.6" x="353.1" y="135.6" fill="#000">BTBDT2</text>
<line x1="295.6" y1="162.9" x2="344.8" y2="162.9" stroke="#2d52f4" stroke-width="4.8" stroke-linecap="round"/>
<path d="M319.8 155.1L326.6 167.3L313 167.3Z" fill="#2d52f4"/>
<text class="sans" font-size="26.6" x="353.1" y="169.9" fill="#000">BTBDT3</text>
<line x1="295.6" y1="197.0" x2="344.8" y2="197.0" stroke="#6a18f2" stroke-width="4.8" stroke-linecap="round"/>
<path d="M319.8 189.8L327 197L319.8 204.2L312.6 197Z" fill="#6a18f2"/>
<text class="sans" font-size="26.6" x="353.1" y="204.0" fill="#000">BTBDT4</text>
</g>
<g id="panel-b">
<rect x="122.4" y="736.6" width="635.4" height="473.2" fill="none" stroke="#000" stroke-width="4.8"/>
<path d="M122.4 1210.2h-9M122.4 1182.4h-4.8M122.4 1154.5h-9M122.4 1126.7h-4.8M122.4 1098.8h-9M122.4 1071h-4.8M122.4 1043.1h-9M122.4 1015.2h-4.8M122.4 987.4h-9M122.4 959.6h-4.8M122.4 931.7h-9M122.4 903.9h-4.8M122.4 876h-9M122.4 848.2h-4.8M122.4 820.3h-9M122.4 792.5h-4.8M122.4 764.6h-9M122.4 736.8h-4.8M122.4 1209.8v8.8M193 1209.8v5M263.6 1209.8v8.8M334.1 1209.8v5M404.7 1209.8v8.8M475.3 1209.8v5M545.9 1209.8v8.8M616.4 1209.8v5M687 1209.8v8.8M757.6 1209.8v5" stroke="#000" stroke-width="4.5" fill="none" stroke-linecap="round"/>
<g clip-path="url(#cb)">
<path d="M122.4 1200.6L123.9 1198.6L125.4 1196.3L126.9 1193.9L128.4 1191.3L129.9 1188.6L131.4 1185.7L132.9 1182.6L134.4 1179.4L135.9 1176.1L137.4 1172.6L138.9 1169.1L140.4 1165.5L141.9 1161.6L143.4 1157.5L144.9 1152.9L146.4 1148.1L147.9 1143.1L149.4 1137.9L150.9 1132.6L152.4 1127.2L153.9 1121.8L155.4 1116.4L156.9 1111.2L158.4 1106L159.9 1101L161.4 1095.8L162.9 1090.4L164.4 1085L165.9 1079.4L167.4 1074L168.9 1068.6L170.4 1063.4L171.9 1058.5L173.4 1053.8L174.9 1049.6L176.4 1045.8L177.9 1042.6L179.4 1039.5L180.9 1036.5L182.4 1033.6L183.9 1030.8L185.4 1028.2L186.9 1025.7L188.4 1023.5L189.9 1021.4L191.4 1019.5L192.9 1017.8L194.4 1016.5L195.9 1015.3L197.4 1014.3L198.9 1013.4L200.4 1012.5L201.9 1011.6L203.4 1010.8L204.9 1010L206.4 1009.3L207.9 1008.8L209.4 1008.3L210.9 1007.9L212.4 1007.7L213.9 1007.6L215.4 1007.6L216.9 1007.7L218.4 1007.8L219.9 1008L221.4 1008.2L222.9 1008.4L224.4 1008.7L225.9 1009L227.4 1009.3L228.9 1009.7L230.4 1010L231.9 1010.4L233.4 1010.7L234.9 1011.3L236.4 1012L237.9 1012.7L239.4 1013.6L240.9 1014.4L242.4 1015.3L243.9 1016.1L245.4 1016.8L246.9 1017.4L248.4 1017.9L249.9 1018.2L251.4 1018.2L252.9 1018.2L254.4 1018.2L255.9 1018.1L257.4 1018L258.9 1018L260.4 1017.9L261.9 1017.8L263.4 1017.6L264.9 1017.5L266.4 1017.4L267.9 1017.2L269.4 1017.1L270.9 1016.9L272.4 1016.6L273.9 1016.2L275.4 1015.7L276.9 1015.1L278.4 1014.5L279.9 1013.9L281.4 1013.2L282.9 1012.4L284.4 1011.6L285.9 1010.8L287.4 1010L288.9 1009.1L290.4 1008L291.9 1006.8L293.4 1005.5L294.9 1004.1L296.4 1002.6L297.9 1001L299.4 999.4L300.9 997.7L302.4 995.9L303.9 994.2L305.4 992.4L306.9 990.6L308.4 988.6L309.9 986.5L311.4 984.3L312.9 982L314.4 979.7L315.9 977.4L317.4 975L318.9 972.7L320.4 970.4L321.9 968.2L323.4 966.1L324.9 964.2L326.4 962.2L327.9 960.2L329.4 958.3L330.9 956.4L332.4 954.5L333.9 952.6L335.4 950.9L336.9 949.2L338.4 947.6L339.9 946.2L341.4 944.8L342.9 943.7L344.4 942.6L345.9 941.5L347.4 940.4L348.9 939.4L350.4 938.4L351.9 937.5L353.4 936.6L354.9 935.8L356.4 935.2L357.9 934.6L359.4 934.2L360.9 933.9L362.4 933.7L363.9 933.5L365.4 933.3L366.9 933.1L368.4 933L369.9 932.8L371.4 932.7L372.9 932.6L374.4 932.5L375.9 932.5L377.4 932.4L378.9 932.4L380.4 932.5L381.9 932.7L383.4 933.1L384.9 933.7L386.4 934.4L387.9 935.2L389.4 936.1L390.9 937L392.4 938L393.9 938.9L395.4 939.8L396.9 940.7L398.4 941.5L399.9 942.3L401.4 943.2L402.9 944.1L404.4 945L405.9 945.9L407.4 946.9L408.9 947.8L410.4 948.7L411.9 949.6L413.4 950.5L414.9 951.4L416.4 952.2L417.9 953L419.4 953.8L420.9 954.6L422.4 955.4L423.9 956.2L425.4 957L426.9 957.7L428.4 958.4L429.9 959.2L431.4 959.9L432.9 960.6L434.4 961.2L435.9 961.9L437.4 962.5L438.9 963.1L440.4 963.8L441.9 964.4L443.4 965L444.9 965.5L446.4 966.1L447.9 966.7L449.4 967.2L450.9 967.8L452.4 968.3L453.9 968.8L455.4 969.3L456.9 969.7L458.4 970.2L459.9 970.6L461.4 971L462.9 971.5L464.4 971.9L465.9 972.4L467.4 972.8L468.9 973.3L470.4 973.9L471.9 974.4L473.4 975L474.9 975.6L476.4 976.3L477.9 976.9L479.4 977.6L480.9 978.3L482.4 979.1L483.9 979.8L485.4 980.6L486.9 981.4L488.4 982.2L489.9 983.1L491.4 983.9L492.9 984.8L494.4 985.7L495.9 986.7L497.4 987.7L498.9 988.7L500.4 989.7L501.9 990.8L503.4 991.9L504.9 993.1L506.4 994.3L507.9 995.5L509.4 996.8L510.9 998.2L512.4 999.6L513.9 1001.1L515.4 1002.7L516.9 1004.3L518.4 1006L519.9 1007.7L521.4 1009.5L522.9 1011.3L524.4 1013.1L525.9 1015L527.4 1016.9L528.9 1018.9L530.4 1021L531.9 1023.1L533.4 1025.4L534.9 1027.7L536.4 1030L537.9 1032.3L539.4 1034.7L540.9 1037L542.4 1039.4L543.9 1041.7L545.4 1043.9L546.9 1046.2L548.4 1048.5L549.9 1050.8L551.4 1053.1L552.9 1055.4L554.4 1057.7L555.9 1060.1L557.4 1062.4L558.9 1064.8L560.4 1067.1L561.9 1069.5L563.4 1072L564.9 1074.4L566.4 1076.9L567.9 1079.4L569.4 1082L570.9 1084.5L572.4 1087.1L573.9 1089.7L575.4 1092.2L576.9 1094.8L578.4 1097.4L579.9 1099.9L581.4 1102.4L582.9 1105L584.4 1107.6L585.9 1110.3L587.4 1113.1L588.9 1115.8L590.4 1118.5L591.9 1121.1L593.4 1123.6L594.9 1126L596.4 1128.3L597.9 1130.4L599.4 1132.4L600.9 1134.1L602.4 1135.8L603.9 1137.4L605.4 1138.9L606.9 1140.3L608.4 1141.7L609.9 1143.1L611.4 1144.4L612.9 1145.7L614.4 1146.9L615.9 1148.2L617.4 1149.5L618.9 1150.8L620.4 1152.1L621.9 1153.4L623.4 1154.7L624.9 1155.9L626.4 1157.2L627.9 1158.4L629.4 1159.6L630.9 1160.8L632.4 1161.9L633.9 1163L635.4 1164.1L636.9 1165.1L638.4 1166L639.9 1167L641.4 1167.9L642.9 1168.8L644.4 1169.6L645.9 1170.5L647.4 1171.3L648.9 1172.1L650.4 1172.9L651.9 1173.8L653.4 1174.6L654.9 1175.5L656.4 1176.4L657.9 1177.3L659.4 1178.2L660.9 1179.1L662.4 1179.9L663.9 1180.8L665.4 1181.7L666.9 1182.6L668.4 1183.5L669.9 1184.3L671.4 1185.2L672.9 1186L674.4 1186.8L675.9 1187.6L677.4 1188.4L678.9 1189.2L680.4 1190L681.9 1190.8L683.4 1191.5L684.9 1192.3L686.4 1193L687.9 1193.8L689.4 1194.5L690.9 1195.2L692.4 1196L693.9 1196.7L695.4 1197.5L696.9 1198.2L698.4 1199L699.9 1199.7L701.4 1200.4L702.9 1201.1L704.4 1201.8L705.9 1202.3L707.4 1202.9L708.9 1203.3L710.4 1203.7L711.9 1204.1L713.4 1204.4L714.9 1204.7L716.4 1205.1L717.9 1205.4L719.4 1205.6L720.9 1205.9L722.4 1206.1L723.9 1206.3L725.4 1206.5L726.9 1206.6L728.4 1206.7L729.9 1206.8L731.4 1206.9L732.9 1207L734.4 1207.1L735.9 1207.2L737.4 1207.3L738.9 1207.3L740.4 1207.4L741.9 1207.4L743.4 1207.5L744.9 1207.5L746.3 1207.5" fill="none" stroke="#000000" stroke-width="4.6" stroke-linejoin="round" stroke-linecap="round"/>
<rect x="117.1" y="1195.3" width="10.6" height="10.6" fill="#000000"/>
<rect x="135.4" y="1159.3" width="10.6" height="10.6" fill="#000000"/>
<rect x="153.8" y="1098.4" width="10.6" height="10.6" fill="#000000"/>
<rect x="172.2" y="1038.2" width="10.6" height="10.6" fill="#000000"/>
<rect x="190.5" y="1010.1" width="10.6" height="10.6" fill="#000000"/>
<rect x="208.8" y="1002.3" width="10.6" height="10.6" fill="#000000"/>
<rect x="227.2" y="1005.2" width="10.6" height="10.6" fill="#000000"/>
<rect x="245.6" y="1012.9" width="10.6" height="10.6" fill="#000000"/>
<rect x="263.9" y="1011.8" width="10.6" height="10.6" fill="#000000"/>
<rect x="282.2" y="1004.6" width="10.6" height="10.6" fill="#000000"/>
<rect x="300.6" y="986.5" width="10.6" height="10.6" fill="#000000"/>
<rect x="318.9" y="959.7" width="10.6" height="10.6" fill="#000000"/>
<rect x="337.3" y="938.6" width="10.6" height="10.6" fill="#000000"/>
<rect x="355.7" y="928.6" width="10.6" height="10.6" fill="#000000"/>
<rect x="374" y="927.1" width="10.6" height="10.6" fill="#000000"/>
<rect x="392.3" y="935.8" width="10.6" height="10.6" fill="#000000"/>
<rect x="410.7" y="946.7" width="10.6" height="10.6" fill="#000000"/>
<rect x="429.1" y="955.9" width="10.6" height="10.6" fill="#000000"/>
<rect x="447.4" y="963.1" width="10.6" height="10.6" fill="#000000"/>
<rect x="465.8" y="968.8" width="10.6" height="10.6" fill="#000000"/>
<rect x="484.1" y="977.5" width="10.6" height="10.6" fill="#000000"/>
<rect x="502.4" y="990.1" width="10.6" height="10.6" fill="#000000"/>
<rect x="520.8" y="1009.9" width="10.6" height="10.6" fill="#000000"/>
<rect x="539.2" y="1037.2" width="10.6" height="10.6" fill="#000000"/>
<rect x="557.5" y="1065.7" width="10.6" height="10.6" fill="#000000"/>
<rect x="575.9" y="1096.7" width="10.6" height="10.6" fill="#000000"/>
<rect x="594.2" y="1127.2" width="10.6" height="10.6" fill="#000000"/>
<rect x="612.6" y="1144.6" width="10.6" height="10.6" fill="#000000"/>
<rect x="630.9" y="1159.3" width="10.6" height="10.6" fill="#000000"/>
<rect x="649.3" y="1170" width="10.6" height="10.6" fill="#000000"/>
<rect x="667.6" y="1180.7" width="10.6" height="10.6" fill="#000000"/>
<rect x="686" y="1190.1" width="10.6" height="10.6" fill="#000000"/>
<rect x="704.3" y="1198.2" width="10.6" height="10.6" fill="#000000"/>
<rect x="722.7" y="1201.4" width="10.6" height="10.6" fill="#000000"/>
<rect x="741" y="1202.2" width="10.6" height="10.6" fill="#000000"/>
<path d="M122.4 1201.6L123.9 1199.7L125.4 1197.6L126.9 1195.3L128.4 1192.9L129.9 1190.3L131.4 1187.6L132.9 1184.7L134.4 1181.7L135.9 1178.6L137.4 1175.3L138.9 1172L140.4 1168.6L141.9 1165L143.4 1161.1L144.9 1156.9L146.4 1152.5L147.9 1147.8L149.4 1143L150.9 1138.1L152.4 1133.1L153.9 1128L155.4 1123L156.9 1118L158.4 1113L159.9 1108.2L161.4 1103.3L162.9 1098.4L164.4 1093.3L165.9 1088.2L167.4 1083.1L168.9 1078.1L170.4 1073L171.9 1068.1L173.4 1063.2L174.9 1058.4L176.4 1053.8L177.9 1049.4L179.4 1044.9L180.9 1040.4L182.4 1035.9L183.9 1031.4L185.4 1026.9L186.9 1022.6L188.4 1018.5L189.9 1014.6L191.4 1010.9L192.9 1007.4L194.4 1004.4L195.9 1001.6L197.4 999L198.9 996.4L200.4 993.9L201.9 991.3L203.4 988.9L204.9 986.7L206.4 984.6L207.9 982.8L209.4 981.3L210.9 980.1L212.4 979.3L213.9 978.8L215.4 978.7L216.9 978.6L218.4 978.5L219.9 978.4L221.4 978.3L222.9 978.2L224.4 978.2L225.9 978.1L227.4 978.1L228.9 978L230.4 978L231.9 978L233.4 978.1L234.9 978.6L236.4 979.5L237.9 980.7L239.4 982.2L240.9 983.8L242.4 985.6L243.9 987.4L245.4 989.2L246.9 990.8L248.4 992.3L249.9 993.5L251.4 994.4L252.9 995.3L254.4 996.2L255.9 997L257.4 997.9L258.9 998.7L260.4 999.4L261.9 1000.1L263.4 1000.7L264.9 1001.2L266.4 1001.5L267.9 1001.7L269.4 1001.8L270.9 1001.8L272.4 1001.8L273.9 1001.7L275.4 1001.6L276.9 1001.5L278.4 1001.4L279.9 1001.3L281.4 1001.1L282.9 1001L284.4 1000.8L285.9 1000.6L287.4 1000.4L288.9 1000.1L290.4 999.6L291.9 998.9L293.4 998L294.9 996.9L296.4 995.7L297.9 994.3L299.4 992.9L300.9 991.4L302.4 989.8L303.9 988.2L305.4 986.5L306.9 984.8L308.4 982.9L309.9 980.6L311.4 978.2L312.9 975.5L314.4 972.7L315.9 969.8L317.4 966.8L318.9 963.7L320.4 960.6L321.9 957.5L323.4 954.4L324.9 951.4L326.4 948.2L327.9 944.9L329.4 941.4L330.9 937.9L332.4 934.3L333.9 930.7L335.4 927.2L336.9 923.8L338.4 920.5L339.9 917.4L341.4 914.4L342.9 911.8L344.4 909.2L345.9 906.7L347.4 904.2L348.9 901.7L350.4 899.4L351.9 897.1L353.4 894.9L354.9 892.9L356.4 891.1L357.9 889.4L359.4 887.8L360.9 886.5L362.4 885.4L363.9 884.2L365.4 883.1L366.9 882L368.4 881L369.9 880L371.4 879.1L372.9 878.4L374.4 877.7L375.9 877.1L377.4 876.7L378.9 876.4L380.4 876.3L381.9 876.1L383.4 876L384.9 875.9L386.4 875.7L387.9 875.6L389.4 875.5L390.9 875.5L392.4 875.4L393.9 875.4L395.4 875.3L396.9 875.3L398.4 875.3L399.9 875.4L401.4 875.5L402.9 875.7L404.4 876L405.9 876.3L407.4 876.6L408.9 876.9L410.4 877.3L411.9 877.6L413.4 878L414.9 878.4L416.4 878.7L417.9 879L419.4 879.4L420.9 879.7L422.4 880.1L423.9 880.5L425.4 880.9L426.9 881.3L428.4 881.7L429.9 882.1L431.4 882.6L432.9 883L434.4 883.5L435.9 884L437.4 884.5L438.9 885.1L440.4 885.7L441.9 886.3L443.4 886.9L444.9 887.5L446.4 888.1L447.9 888.7L449.4 889.4L450.9 890L452.4 890.6L453.9 891.2L455.4 891.7L456.9 892.3L458.4 892.8L459.9 893.4L461.4 893.9L462.9 894.5L464.4 895L465.9 895.6L467.4 896.3L468.9 896.9L470.4 897.6L471.9 898.3L473.4 899.1L474.9 899.9L476.4 900.7L477.9 901.5L479.4 902.4L480.9 903.3L482.4 904.3L483.9 905.3L485.4 906.4L486.9 907.5L488.4 908.6L489.9 909.8L491.4 911.1L492.9 912.5L494.4 914L495.9 915.6L497.4 917.3L498.9 919L500.4 920.8L501.9 922.6L503.4 924.5L504.9 926.4L506.4 928.3L507.9 930.2L509.4 932.1L510.9 934.2L512.4 936.2L513.9 938.3L515.4 940.5L516.9 942.7L518.4 945L519.9 947.3L521.4 949.6L522.9 952L524.4 954.5L525.9 957L527.4 959.5L528.9 962.1L530.4 964.8L531.9 967.6L533.4 970.4L534.9 973.3L536.4 976.2L537.9 979.1L539.4 982.1L540.9 985.1L542.4 988.1L543.9 991.1L545.4 994.1L546.9 997.2L548.4 1000.3L549.9 1003.4L551.4 1006.6L552.9 1009.8L554.4 1013.1L555.9 1016.3L557.4 1019.5L558.9 1022.7L560.4 1025.9L561.9 1029.1L563.4 1032.3L564.9 1035.4L566.4 1038.6L567.9 1041.8L569.4 1044.9L570.9 1048.1L572.4 1051.3L573.9 1054.4L575.4 1057.5L576.9 1060.6L578.4 1063.6L579.9 1066.6L581.4 1069.5L582.9 1072.4L584.4 1075.2L585.9 1078.1L587.4 1080.9L588.9 1083.7L590.4 1086.4L591.9 1089.1L593.4 1091.8L594.9 1094.4L596.4 1096.9L597.9 1099.4L599.4 1101.8L600.9 1104.2L602.4 1106.6L603.9 1108.9L605.4 1111.3L606.9 1113.5L608.4 1115.8L609.9 1117.9L611.4 1120L612.9 1122L614.4 1123.9L615.9 1125.7L617.4 1127.4L618.9 1129L620.4 1130.5L621.9 1131.9L623.4 1133.2L624.9 1134.5L626.4 1135.7L627.9 1136.9L629.4 1138.1L630.9 1139.2L632.4 1140.4L633.9 1141.5L635.4 1142.6L636.9 1143.7L638.4 1144.8L639.9 1145.9L641.4 1147L642.9 1148L644.4 1149.1L645.9 1150.1L647.4 1151.1L648.9 1152.1L650.4 1153.1L651.9 1154.1L653.4 1155L654.9 1156L656.4 1157L657.9 1157.9L659.4 1158.9L660.9 1159.8L662.4 1160.7L663.9 1161.6L665.4 1162.5L666.9 1163.4L668.4 1164.4L669.9 1165.3L671.4 1166.3L672.9 1167.3L674.4 1168.3L675.9 1169.4L677.4 1170.4L678.9 1171.5L680.4 1172.6L681.9 1173.7L683.4 1174.9L684.9 1176L686.4 1177.1L687.9 1178.2L689.4 1179.3L690.9 1180.4L692.4 1181.6L693.9 1182.7L695.4 1183.9L696.9 1185.2L698.4 1186.4L699.9 1187.6L701.4 1188.8L702.9 1189.9L704.4 1191L705.9 1192L707.4 1193L708.9 1193.8L710.4 1194.5L711.9 1195.1L713.4 1195.7L714.9 1196.3L716.4 1196.9L717.9 1197.4L719.4 1197.9L720.9 1198.4L722.4 1198.8L723.9 1199.3L725.4 1199.6L726.9 1200L728.4 1200.3L729.9 1200.6L731.4 1200.9L732.9 1201.2L734.4 1201.4L735.9 1201.7L737.4 1201.9L738.9 1202.2L740.4 1202.4L741.9 1202.5L743.4 1202.7L744.9 1202.8L746.3 1202.9" fill="none" stroke="#ff1a2c" stroke-width="4.6" stroke-linejoin="round" stroke-linecap="round"/>
<circle cx="122.4" cy="1201.6" r="5.7" fill="#ff1a2c"/>
<circle cx="140.8" cy="1167.8" r="5.7" fill="#ff1a2c"/>
<circle cx="159.1" cy="1110.8" r="5.7" fill="#ff1a2c"/>
<circle cx="177.5" cy="1050.7" r="5.7" fill="#ff1a2c"/>
<circle cx="195.8" cy="1001.8" r="5.7" fill="#ff1a2c"/>
<circle cx="214.2" cy="978.8" r="5.7" fill="#ff1a2c"/>
<circle cx="232.5" cy="978" r="5.7" fill="#ff1a2c"/>
<circle cx="250.9" cy="994.1" r="5.7" fill="#ff1a2c"/>
<circle cx="269.2" cy="1001.8" r="5.7" fill="#ff1a2c"/>
<circle cx="287.6" cy="1000.4" r="5.7" fill="#ff1a2c"/>
<circle cx="305.9" cy="986" r="5.7" fill="#ff1a2c"/>
<circle cx="324.2" cy="952.7" r="5.7" fill="#ff1a2c"/>
<circle cx="342.6" cy="912.3" r="5.7" fill="#ff1a2c"/>
<circle cx="361" cy="886.5" r="5.7" fill="#ff1a2c"/>
<circle cx="379.3" cy="876.4" r="5.7" fill="#ff1a2c"/>
<circle cx="397.6" cy="875.3" r="5.7" fill="#ff1a2c"/>
<circle cx="416" cy="878.6" r="5.7" fill="#ff1a2c"/>
<circle cx="434.4" cy="883.5" r="5.7" fill="#ff1a2c"/>
<circle cx="452.7" cy="890.7" r="5.7" fill="#ff1a2c"/>
<circle cx="471.1" cy="897.9" r="5.7" fill="#ff1a2c"/>
<circle cx="489.4" cy="909.4" r="5.7" fill="#ff1a2c"/>
<circle cx="507.8" cy="930" r="5.7" fill="#ff1a2c"/>
<circle cx="526.1" cy="957.3" r="5.7" fill="#ff1a2c"/>
<circle cx="544.5" cy="992.2" r="5.7" fill="#ff1a2c"/>
<circle cx="562.8" cy="1031" r="5.7" fill="#ff1a2c"/>
<circle cx="581.2" cy="1069" r="5.7" fill="#ff1a2c"/>
<circle cx="599.5" cy="1102" r="5.7" fill="#ff1a2c"/>
<circle cx="617.9" cy="1127.9" r="5.7" fill="#ff1a2c"/>
<circle cx="636.2" cy="1143.2" r="5.7" fill="#ff1a2c"/>
<circle cx="654.6" cy="1155.8" r="5.7" fill="#ff1a2c"/>
<circle cx="672.9" cy="1167.3" r="5.7" fill="#ff1a2c"/>
<circle cx="691.2" cy="1180.7" r="5.7" fill="#ff1a2c"/>
<circle cx="709.6" cy="1194.1" r="5.7" fill="#ff1a2c"/>
<circle cx="728" cy="1200.2" r="5.7" fill="#ff1a2c"/>
<circle cx="746.3" cy="1202.9" r="5.7" fill="#ff1a2c"/>
<path d="M122.4 1176.5L123.9 1174.8L125.4 1172.4L126.9 1169.4L128.4 1165.9L129.9 1161.8L131.4 1157.2L132.9 1152.3L134.4 1146.9L135.9 1141.3L137.4 1135.4L138.9 1129.3L140.4 1123.1L141.9 1116.3L143.4 1108.2L144.9 1098.8L146.4 1088.5L147.9 1077.4L149.4 1065.7L150.9 1053.6L152.4 1041.3L153.9 1029.1L155.4 1017.2L156.9 1005.6L158.4 994.8L159.9 984.6L161.4 974.2L162.9 963.7L164.4 953.1L165.9 942.5L167.4 932L168.9 921.9L170.4 912.1L171.9 902.8L173.4 894.2L174.9 886.3L176.4 879.3L177.9 873.1L179.4 867.1L180.9 861.5L182.4 856.7L183.9 853.5L185.4 852.1L186.9 851.3L188.4 850.6L189.9 850L191.4 849.6L192.9 849.3L194.4 849.1L195.9 849L197.4 849.3L198.9 850L200.4 851.1L201.9 852.6L203.4 854.3L204.9 856.2L206.4 858.3L207.9 860.4L209.4 862.5L210.9 864.6L212.4 866.6L213.9 868.3L215.4 869.9L216.9 871.5L218.4 873.1L219.9 874.7L221.4 876.3L222.9 877.9L224.4 879.5L225.9 881.2L227.4 882.8L228.9 884.5L230.4 886.2L231.9 888L233.4 889.8L234.9 891.9L236.4 894.3L237.9 896.7L239.4 899.2L240.9 901.7L242.4 904.2L243.9 906.5L245.4 908.5L246.9 910.3L248.4 911.6L249.9 912.6L251.4 913L252.9 913.3L254.4 913.7L255.9 913.9L257.4 914.2L258.9 914.4L260.4 914.6L261.9 914.8L263.4 914.9L264.9 915.1L266.4 915.1L267.9 915.2L269.4 915.2L270.9 915.1L272.4 914.9L273.9 914.6L275.4 914.2L276.9 913.7L278.4 913.1L279.9 912.4L281.4 911.7L282.9 911L284.4 910.2L285.9 909.5L287.4 908.7L288.9 907.9L290.4 907L291.9 905.9L293.4 904.8L294.9 903.6L296.4 902.4L297.9 901L299.4 899.5L300.9 898L302.4 896.3L303.9 894.6L305.4 892.8L306.9 890.8L308.4 888.4L309.9 885.5L311.4 882.2L312.9 878.8L314.4 875.2L315.9 871.5L317.4 868L318.9 864.6L320.4 861.4L321.9 858.7L323.4 856.4L324.9 854.6L326.4 853.3L327.9 852.2L329.4 851.2L330.9 850.1L332.4 848.7L333.9 846.9L335.4 844L336.9 840.1L338.4 835.7L339.9 831.4L341.4 827.7L342.9 825.1L344.4 823L345.9 821.2L347.4 819.5L348.9 818L350.4 816.6L351.9 815.3L353.4 814.1L354.9 813L356.4 812L357.9 811.1L359.4 810.2L360.9 809L362.4 807.4L363.9 805.2L365.4 802.6L366.9 800.1L368.4 797.7L369.9 796L371.4 795L372.9 795.1L374.4 796.2L375.9 797.8L377.4 799.7L378.9 801.6L380.4 803.3L381.9 805.3L383.4 807.4L384.9 809.6L386.4 811.4L387.9 812.9L389.4 813.6L390.9 813.5L392.4 812.6L393.9 811.3L395.4 810L396.9 809.1L398.4 809.3L399.9 811.6L401.4 815L402.9 818.6L404.4 821.2L405.9 823.3L407.4 825.3L408.9 827.1L410.4 828.9L411.9 830.5L413.4 832.2L414.9 833.7L416.4 835.3L417.9 836.8L419.4 838.3L420.9 839.8L422.4 841.1L423.9 842.5L425.4 843.9L426.9 845.2L428.4 846.5L429.9 847.9L431.4 849.2L432.9 850.6L434.4 851.9L435.9 853.4L437.4 854.8L438.9 856.3L440.4 857.7L441.9 859.2L443.4 860.7L444.9 862.1L446.4 863.5L447.9 864.9L449.4 866.3L450.9 867.7L452.4 868.9L453.9 870.2L455.4 871.4L456.9 872.5L458.4 873.6L459.9 874.7L461.4 875.8L462.9 876.9L464.4 878L465.9 879L467.4 880.2L468.9 881.3L470.4 882.5L471.9 883.7L473.4 884.9L474.9 886.2L476.4 887.4L477.9 888.7L479.4 890L480.9 891.3L482.4 892.6L483.9 894L485.4 895.4L486.9 896.9L488.4 898.4L489.9 899.9L491.4 901.5L492.9 903.2L494.4 904.9L495.9 906.7L497.4 908.5L498.9 910.4L500.4 912.3L501.9 914.2L503.4 916.2L504.9 918.2L506.4 920.2L507.9 922.2L509.4 924.3L510.9 926.4L512.4 928.5L513.9 930.8L515.4 933L516.9 935.3L518.4 937.6L519.9 939.9L521.4 942.2L522.9 944.5L524.4 946.8L525.9 949.1L527.4 951.4L528.9 953.7L530.4 955.9L531.9 958.2L533.4 960.5L534.9 962.8L536.4 965.2L537.9 967.5L539.4 969.8L540.9 972.2L542.4 974.5L543.9 976.9L545.4 979.3L546.9 981.7L548.4 984.1L549.9 986.6L551.4 989L552.9 991.4L554.4 993.9L555.9 996.4L557.4 998.9L558.9 1001.4L560.4 1003.9L561.9 1006.5L563.4 1009L564.9 1011.7L566.4 1014.3L567.9 1017L569.4 1019.7L570.9 1022.4L572.4 1025.2L573.9 1027.9L575.4 1030.6L576.9 1033.4L578.4 1036.1L579.9 1038.8L581.4 1041.4L582.9 1044.1L584.4 1046.8L585.9 1049.5L587.4 1052.2L588.9 1054.9L590.4 1057.6L591.9 1060.3L593.4 1062.9L594.9 1065.5L596.4 1068L597.9 1070.5L599.4 1072.8L600.9 1075.2L602.4 1077.4L603.9 1079.7L605.4 1081.9L606.9 1084L608.4 1086.2L609.9 1088.3L611.4 1090.3L612.9 1092.4L614.4 1094.4L615.9 1096.4L617.4 1098.4L618.9 1100.4L620.4 1102.4L621.9 1104.4L623.4 1106.5L624.9 1108.5L626.4 1110.5L627.9 1112.4L629.4 1114.3L630.9 1116.1L632.4 1117.8L633.9 1119.4L635.4 1120.9L636.9 1122.3L638.4 1123.6L639.9 1124.8L641.4 1125.9L642.9 1127L644.4 1128L645.9 1129L647.4 1130L648.9 1131L650.4 1132L651.9 1133.1L653.4 1134.2L654.9 1135.4L656.4 1136.6L657.9 1137.8L659.4 1139.1L660.9 1140.3L662.4 1141.6L663.9 1142.9L665.4 1144.2L666.9 1145.6L668.4 1146.9L669.9 1148.3L671.4 1149.8L672.9 1151.2L674.4 1152.7L675.9 1154.3L677.4 1155.9L678.9 1157.6L680.4 1159.3L681.9 1161L683.4 1162.8L684.9 1164.5L686.4 1166.2L687.9 1167.8L689.4 1169.4L690.9 1171L692.4 1172.4L693.9 1173.9L695.4 1175.3L696.9 1176.8L698.4 1178.2L699.9 1179.6L701.4 1181L702.9 1182.3L704.4 1183.6L705.9 1184.8L707.4 1185.9L708.9 1186.9L710.4 1187.9L711.9 1188.9L713.4 1189.8L714.9 1190.7L716.4 1191.6L717.9 1192.4L719.4 1193.2L720.9 1194L722.4 1194.7L723.9 1195.3L725.4 1195.9L726.9 1196.5L728.4 1196.9L729.9 1197.4L731.4 1197.8L732.9 1198.3L734.4 1198.7L735.9 1199L737.4 1199.4L738.9 1199.7L740.4 1200L741.9 1200.3L743.4 1200.5L744.9 1200.7L746.3 1200.8" fill="none" stroke="#2d52f4" stroke-width="4.6" stroke-linejoin="round" stroke-linecap="round"/>
<path d="M122.4 1168.7L129.2 1180.9L115.6 1180.9Z" fill="#2d52f4"/>
<path d="M140.8 1113.8L147.6 1126L133.9 1126Z" fill="#2d52f4"/>
<path d="M159.1 982.2L165.9 994.4L152.3 994.4Z" fill="#2d52f4"/>
<path d="M177.5 867.1L184.3 879.3L170.7 879.3Z" fill="#2d52f4"/>
<path d="M195.8 841.2L202.6 853.4L189 853.4Z" fill="#2d52f4"/>
<path d="M214.2 860.8L221 873L207.3 873Z" fill="#2d52f4"/>
<path d="M232.5 880.9L239.3 893.1L225.7 893.1Z" fill="#2d52f4"/>
<path d="M250.9 905.1L257.7 917.3L244.1 917.3Z" fill="#2d52f4"/>
<path d="M269.2 907.4L276 919.6L262.4 919.6Z" fill="#2d52f4"/>
<path d="M287.6 900.8L294.4 913L280.8 913Z" fill="#2d52f4"/>
<path d="M305.9 884.4L312.7 896.6L299.1 896.6Z" fill="#2d52f4"/>
<path d="M324.2 847.5L331.1 859.7L317.4 859.7Z" fill="#2d52f4"/>
<path d="M342.6 817.7L349.4 829.9L335.8 829.9Z" fill="#2d52f4"/>
<path d="M361 801.2L367.8 813.4L354.2 813.4Z" fill="#2d52f4"/>
<path d="M379.3 794.2L386.1 806.4L372.5 806.4Z" fill="#2d52f4"/>
<path d="M397.6 801.2L404.4 813.4L390.8 813.4Z" fill="#2d52f4"/>
<path d="M416 827.1L422.8 839.3L409.2 839.3Z" fill="#2d52f4"/>
<path d="M434.4 844.1L441.2 856.3L427.6 856.3Z" fill="#2d52f4"/>
<path d="M452.7 861.4L459.5 873.6L445.9 873.6Z" fill="#2d52f4"/>
<path d="M471.1 875.2L477.9 887.4L464.3 887.4Z" fill="#2d52f4"/>
<path d="M489.4 891.6L496.2 903.8L482.6 903.8Z" fill="#2d52f4"/>
<path d="M507.8 914.2L514.5 926.4L500.9 926.4Z" fill="#2d52f4"/>
<path d="M526.1 941.6L532.9 953.8L519.3 953.8Z" fill="#2d52f4"/>
<path d="M544.5 970L551.2 982.2L537.7 982.2Z" fill="#2d52f4"/>
<path d="M562.8 1000.2L569.6 1012.4L556 1012.4Z" fill="#2d52f4"/>
<path d="M581.2 1033.2L588 1045.4L574.4 1045.4Z" fill="#2d52f4"/>
<path d="M599.5 1065.2L606.3 1077.4L592.7 1077.4Z" fill="#2d52f4"/>
<path d="M617.9 1091.2L624.6 1103.4L611.1 1103.4Z" fill="#2d52f4"/>
<path d="M636.2 1113.9L643 1126.1L629.4 1126.1Z" fill="#2d52f4"/>
<path d="M654.6 1127.3L661.4 1139.5L647.8 1139.5Z" fill="#2d52f4"/>
<path d="M672.9 1143.4L679.7 1155.6L666.1 1155.6Z" fill="#2d52f4"/>
<path d="M691.2 1163.5L698 1175.7L684.5 1175.7Z" fill="#2d52f4"/>
<path d="M709.6 1179.6L716.4 1191.8L702.8 1191.8Z" fill="#2d52f4"/>
<path d="M728 1189L734.8 1201.2L721.2 1201.2Z" fill="#2d52f4"/>
<path d="M746.3 1193L753.1 1205.2L739.5 1205.2Z" fill="#2d52f4"/>
<path d="M122.4 1173.3L123.9 1169.6L125.4 1165.3L126.9 1160.5L128.4 1155.2L129.9 1149.5L131.4 1143.3L132.9 1136.7L134.4 1129.8L135.9 1122.5L137.4 1115L138.9 1107.2L140.4 1099.2L141.9 1090.6L143.4 1080.8L144.9 1069.8L146.4 1057.9L147.9 1045.4L149.4 1032.4L150.9 1019.2L152.4 1006L153.9 993L155.4 980.4L156.9 968.4L158.4 957.3L159.9 947.1L161.4 936.8L162.9 926.3L164.4 915.8L165.9 905.4L167.4 895.4L168.9 885.7L170.4 876.7L171.9 868.3L173.4 860.7L174.9 854.1L176.4 848.7L177.9 844.4L179.4 840.5L180.9 836.8L182.4 833.2L183.9 829.7L185.4 826.6L186.9 823.7L188.4 821.1L189.9 818.9L191.4 817.1L192.9 815.7L194.4 814.8L195.9 814.5L197.4 814.4L198.9 814.3L200.4 814.2L201.9 814.2L203.4 814.1L204.9 814.1L206.4 814L207.9 814L209.4 813.9L210.9 813.9L212.4 813.9L213.9 813.9L215.4 814L216.9 814.3L218.4 814.8L219.9 815.5L221.4 816.4L222.9 817.4L224.4 818.5L225.9 819.7L227.4 821L228.9 822.3L230.4 823.6L231.9 824.9L233.4 826.2L234.9 827.8L236.4 829.7L237.9 831.7L239.4 833.9L240.9 836.2L242.4 838.5L243.9 840.7L245.4 842.9L246.9 844.9L248.4 846.7L249.9 848.2L251.4 849.4L252.9 850.5L254.4 851.5L255.9 852.5L257.4 853.4L258.9 854.2L260.4 855L261.9 855.8L263.4 856.5L264.9 857.2L266.4 857.9L267.9 858.5L269.4 859.2L270.9 859.8L272.4 860.4L273.9 861L275.4 861.5L276.9 862.1L278.4 862.6L279.9 863.1L281.4 863.6L282.9 864.1L284.4 864.6L285.9 865.1L287.4 865.6L288.9 866.2L290.4 866.9L291.9 867.6L293.4 868.4L294.9 869.1L296.4 869.8L297.9 870.5L299.4 871.2L300.9 871.7L302.4 872.1L303.9 872.4L305.4 872.6L306.9 872.6L308.4 872.4L309.9 872L311.4 871.6L312.9 871L314.4 870.5L315.9 869.9L317.4 869.3L318.9 868.8L320.4 868.3L321.9 868L323.4 867.8L324.9 867.9L326.4 868.4L327.9 869.4L329.4 870.5L330.9 871.6L332.4 872.3L333.9 872.4L335.4 871.2L336.9 868.8L338.4 866L339.9 863.3L341.4 861.4L342.9 860.8L344.4 861.2L345.9 862L347.4 863.1L348.9 864.1L350.4 865L351.9 865.5L353.4 865.4L354.9 864.7L356.4 863.8L357.9 862.7L359.4 861.6L360.9 860.8L362.4 860.2L363.9 859.5L365.4 858.8L366.9 858.2L368.4 857.7L369.9 857.2L371.4 857L372.9 856.9L374.4 857.8L375.9 859.6L377.4 861.9L378.9 864.2L380.4 866.2L381.9 868.6L383.4 871.3L384.9 873.8L386.4 876.1L387.9 877.8L389.4 878.7L390.9 878.6L392.4 877.3L393.9 875.6L395.4 873.8L396.9 872.7L398.4 872.6L399.9 873.1L401.4 874L402.9 875.4L404.4 877L405.9 878.9L407.4 880.9L408.9 883.1L410.4 885.3L411.9 887.5L413.4 889.6L414.9 891.6L416.4 893.3L417.9 895L419.4 896.7L420.9 898.4L422.4 900.1L423.9 901.8L425.4 903.5L426.9 905.2L428.4 906.9L429.9 908.6L431.4 910.3L432.9 912L434.4 913.8L435.9 915.5L437.4 917.3L438.9 919.1L440.4 920.9L441.9 922.7L443.4 924.5L444.9 926.3L446.4 928.1L447.9 929.9L449.4 931.6L450.9 933.3L452.4 935L453.9 936.6L455.4 938.2L456.9 939.7L458.4 941.2L459.9 942.7L461.4 944.2L462.9 945.7L464.4 947.1L465.9 948.6L467.4 950.2L468.9 951.7L470.4 953.3L471.9 954.9L473.4 956.6L474.9 958.3L476.4 960L477.9 961.7L479.4 963.5L480.9 965.2L482.4 967L483.9 968.8L485.4 970.7L486.9 972.5L488.4 974.4L489.9 976.2L491.4 978.1L492.9 980L494.4 981.9L495.9 983.8L497.4 985.7L498.9 987.7L500.4 989.7L501.9 991.7L503.4 993.8L504.9 995.9L506.4 998L507.9 1000.2L509.4 1002.5L510.9 1004.9L512.4 1007.4L513.9 1009.9L515.4 1012.5L516.9 1015.1L518.4 1017.8L519.9 1020.4L521.4 1023L522.9 1025.6L524.4 1028.2L525.9 1030.7L527.4 1033.1L528.9 1035.5L530.4 1038L531.9 1040.4L533.4 1042.8L534.9 1045.1L536.4 1047.5L537.9 1049.8L539.4 1052.2L540.9 1054.5L542.4 1056.7L543.9 1059L545.4 1061.2L546.9 1063.4L548.4 1065.7L549.9 1067.9L551.4 1070.1L552.9 1072.2L554.4 1074.4L555.9 1076.5L557.4 1078.6L558.9 1080.6L560.4 1082.6L561.9 1084.5L563.4 1086.3L564.9 1088.1L566.4 1089.9L567.9 1091.5L569.4 1093.2L570.9 1094.8L572.4 1096.4L573.9 1098L575.4 1099.6L576.9 1101.1L578.4 1102.7L579.9 1104.3L581.4 1106L582.9 1107.6L584.4 1109.3L585.9 1111.1L587.4 1112.8L588.9 1114.5L590.4 1116.2L591.9 1117.9L593.4 1119.6L594.9 1121.2L596.4 1122.8L597.9 1124.3L599.4 1125.7L600.9 1127.1L602.4 1128.4L603.9 1129.7L605.4 1131L606.9 1132.2L608.4 1133.4L609.9 1134.6L611.4 1135.7L612.9 1136.9L614.4 1138L615.9 1139.1L617.4 1140.2L618.9 1141.3L620.4 1142.3L621.9 1143.4L623.4 1144.5L624.9 1145.5L626.4 1146.5L627.9 1147.5L629.4 1148.5L630.9 1149.4L632.4 1150.4L633.9 1151.2L635.4 1152.1L636.9 1152.9L638.4 1153.6L639.9 1154.3L641.4 1155L642.9 1155.7L644.4 1156.3L645.9 1157L647.4 1157.6L648.9 1158.2L650.4 1158.8L651.9 1159.5L653.4 1160.1L654.9 1160.8L656.4 1161.4L657.9 1162L659.4 1162.6L660.9 1163.2L662.4 1163.9L663.9 1164.5L665.4 1165.1L666.9 1165.7L668.4 1166.4L669.9 1167.1L671.4 1167.8L672.9 1168.6L674.4 1169.4L675.9 1170.3L677.4 1171.2L678.9 1172.1L680.4 1173.1L681.9 1174.1L683.4 1175.2L684.9 1176.2L686.4 1177.3L687.9 1178.3L689.4 1179.4L690.9 1180.5L692.4 1181.5L693.9 1182.6L695.4 1183.8L696.9 1185L698.4 1186.2L699.9 1187.4L701.4 1188.6L702.9 1189.7L704.4 1190.8L705.9 1191.9L707.4 1192.8L708.9 1193.7L710.4 1194.5L711.9 1195.3L713.4 1196.1L714.9 1196.8L716.4 1197.5L717.9 1198.2L719.4 1198.9L720.9 1199.5L722.4 1200L723.9 1200.5L725.4 1201L726.9 1201.4L728.4 1201.7L729.9 1202L731.4 1202.3L732.9 1202.6L734.4 1202.8L735.9 1203.1L737.4 1203.3L738.9 1203.5L740.4 1203.7L741.9 1203.8L743.4 1203.9L744.9 1204L746.3 1204" fill="none" stroke="#6a18f2" stroke-width="4.6" stroke-linejoin="round" stroke-linecap="round"/>
<path d="M122.4 1166.1L129.6 1173.3L122.4 1180.5L115.2 1173.3Z" fill="#6a18f2"/>
<path d="M140.8 1090.1L147.9 1097.3L140.8 1104.5L133.6 1097.3Z" fill="#6a18f2"/>
<path d="M159.1 945.3L166.3 952.5L159.1 959.7L151.9 952.5Z" fill="#6a18f2"/>
<path d="M177.5 838.4L184.7 845.6L177.5 852.8L170.3 845.6Z" fill="#6a18f2"/>
<path d="M195.8 807.3L203 814.5L195.8 821.7L188.6 814.5Z" fill="#6a18f2"/>
<path d="M214.2 806.7L221.3 813.9L214.2 821.1L207 813.9Z" fill="#6a18f2"/>
<path d="M232.5 818.2L239.7 825.4L232.5 832.6L225.3 825.4Z" fill="#6a18f2"/>
<path d="M250.9 841.8L258.1 849L250.9 856.2L243.7 849Z" fill="#6a18f2"/>
<path d="M269.2 851.9L276.4 859.1L269.2 866.3L262 859.1Z" fill="#6a18f2"/>
<path d="M287.6 858.5L294.8 865.7L287.6 872.9L280.4 865.7Z" fill="#6a18f2"/>
<path d="M305.9 865.4L313.1 872.6L305.9 879.8L298.7 872.6Z" fill="#6a18f2"/>
<path d="M324.2 860.6L331.4 867.8L324.2 875L317.1 867.8Z" fill="#6a18f2"/>
<path d="M342.6 853.6L349.8 860.8L342.6 868L335.4 860.8Z" fill="#6a18f2"/>
<path d="M361 853.6L368.2 860.8L361 868L353.8 860.8Z" fill="#6a18f2"/>
<path d="M379.3 857.5L386.5 864.7L379.3 871.9L372.1 864.7Z" fill="#6a18f2"/>
<path d="M397.6 865.3L404.8 872.5L397.6 879.7L390.4 872.5Z" fill="#6a18f2"/>
<path d="M416 885.7L423.2 892.9L416 900.1L408.8 892.9Z" fill="#6a18f2"/>
<path d="M434.4 906.5L441.6 913.7L434.4 920.9L427.2 913.7Z" fill="#6a18f2"/>
<path d="M452.7 928.1L459.9 935.3L452.7 942.5L445.5 935.3Z" fill="#6a18f2"/>
<path d="M471.1 946.8L478.3 954L471.1 961.2L463.9 954Z" fill="#6a18f2"/>
<path d="M489.4 968.4L496.6 975.6L489.4 982.8L482.2 975.6Z" fill="#6a18f2"/>
<path d="M507.8 992.8L515 1000L507.8 1007.2L500.6 1000Z" fill="#6a18f2"/>
<path d="M526.1 1023.8L533.3 1031L526.1 1038.2L518.9 1031Z" fill="#6a18f2"/>
<path d="M544.5 1052.6L551.7 1059.8L544.5 1067L537.2 1059.8Z" fill="#6a18f2"/>
<path d="M562.8 1078.4L570 1085.6L562.8 1092.8L555.6 1085.6Z" fill="#6a18f2"/>
<path d="M581.2 1098.5L588.4 1105.7L581.2 1112.9L574 1105.7Z" fill="#6a18f2"/>
<path d="M599.5 1118.6L606.7 1125.8L599.5 1133L592.3 1125.8Z" fill="#6a18f2"/>
<path d="M617.9 1133.3L625.1 1140.5L617.9 1147.7L610.6 1140.5Z" fill="#6a18f2"/>
<path d="M636.2 1145.3L643.4 1152.5L636.2 1159.7L629 1152.5Z" fill="#6a18f2"/>
<path d="M654.6 1153.4L661.8 1160.6L654.6 1167.8L647.4 1160.6Z" fill="#6a18f2"/>
<path d="M672.9 1161.4L680.1 1168.6L672.9 1175.8L665.7 1168.6Z" fill="#6a18f2"/>
<path d="M691.2 1173.5L698.5 1180.7L691.2 1187.9L684 1180.7Z" fill="#6a18f2"/>
<path d="M709.6 1186.9L716.8 1194.1L709.6 1201.3L702.4 1194.1Z" fill="#6a18f2"/>
<path d="M728 1194.4L735.2 1201.6L728 1208.8L720.8 1201.6Z" fill="#6a18f2"/>
<path d="M746.3 1196.8L753.5 1204L746.3 1211.2L739.1 1204Z" fill="#6a18f2"/>
</g>
<g class="serif" font-size="29" fill="#000">
<text x="107.2" y="1218.3" text-anchor="end">0</text>
<text x="107.2" y="1162.6" text-anchor="end">10</text>
<text x="107.2" y="1106.9" text-anchor="end">20</text>
<text x="107.2" y="1051.2" text-anchor="end">30</text>
<text x="107.2" y="995.5" text-anchor="end">40</text>
<text x="107.2" y="939.8" text-anchor="end">50</text>
<text x="107.2" y="884.1" text-anchor="end">60</text>
<text x="107.2" y="828.4" text-anchor="end">70</text>
<text x="107.2" y="772.7" text-anchor="end">80</text>
<text x="122.4" y="1247.6" text-anchor="middle">300</text>
<text x="263.6" y="1247.6" text-anchor="middle">400</text>
<text x="404.7" y="1247.6" text-anchor="middle">500</text>
<text x="545.9" y="1247.6" text-anchor="middle">600</text>
<text x="687" y="1247.6" text-anchor="middle">700</text>
</g>
<text class="serif" font-size="36" x="440.5" y="1302.8" text-anchor="middle" fill="#000">Wavelength (nm)</text>
<text class="serif" font-size="35.5" transform="translate(56.1 1011.5) rotate(-90) scale(1.045 1)" fill="#000">EQE (%)</text>
<text class="serif" font-size="72" x="0.5" y="725.6" fill="#000">(<tspan dx="2.5">b</tspan><tspan dx="0.5">)</tspan></text>
<rect x="568.3" y="738.2" width="171.4" height="141.8" fill="#fff" stroke="#3a3f45" stroke-width="1.4"/>
<line x1="573.4" y1="758.9" x2="622" y2="758.9" stroke="#000000" stroke-width="4.8" stroke-linecap="round"/>
<rect x="591.4" y="753.6" width="10.6" height="10.6" fill="#000000"/>
<text class="sans" font-size="27" x="628.2" y="765.8" fill="#000">BTBDT1</text>
<line x1="573.4" y1="794.3" x2="622" y2="794.3" stroke="#ff1a2c" stroke-width="4.8" stroke-linecap="round"/>
<circle cx="596.7" cy="794.3" r="5.7" fill="#ff1a2c"/>
<text class="sans" font-size="27" x="630.2" y="801.8" fill="#000">BTBDT2</text>
<line x1="573.4" y1="829.7" x2="622" y2="829.7" stroke="#2d52f4" stroke-width="4.8" stroke-linecap="round"/>
<path d="M596.7 821.9L603.5 834.1L589.9 834.1Z" fill="#2d52f4"/>
<text class="sans" font-size="27" x="630.2" y="837.1" fill="#000">BTBDT3</text>
<line x1="573.4" y1="865.2" x2="622" y2="865.2" stroke="#6a18f2" stroke-width="4.8" stroke-linecap="round"/>
<path d="M596.7 858L603.9 865.2L596.7 872.4L589.5 865.2Z" fill="#6a18f2"/>
<text class="sans" font-size="27" x="630.2" y="872.4" fill="#000">BTBDT4</text>
</g>
</g>
</svg></body></html>
